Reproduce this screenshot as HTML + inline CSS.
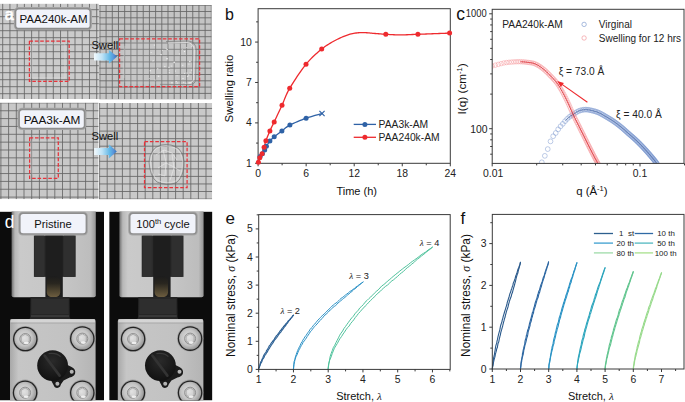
<!DOCTYPE html>
<html><head><meta charset="utf-8"><style>
html,body{margin:0;padding:0;background:#fff;}
svg{display:block;font-family:"Liberation Sans", sans-serif;}
</style></head><body>
<svg width="685" height="402" viewBox="0 0 685 402" font-family='"Liberation Sans", sans-serif'>
<rect width="685" height="402" fill="#fff"/>
<rect x="258.1" y="8.7" width="192.2" height="154.60000000000002" fill="none" stroke="#3a3a3a" stroke-width="1"/>
<line x1="255.10" y1="163.30" x2="258.10" y2="163.30" stroke="#3a3a3a" stroke-width="1" />
<text x="251.80" y="166.80" font-size="10.4" text-anchor="end" fill="#222" >1</text>
<line x1="255.10" y1="122.89" x2="258.10" y2="122.89" stroke="#3a3a3a" stroke-width="1" />
<text x="251.80" y="126.39" font-size="10.4" text-anchor="end" fill="#222" >4</text>
<line x1="255.10" y1="82.48" x2="258.10" y2="82.48" stroke="#3a3a3a" stroke-width="1" />
<text x="251.80" y="85.98" font-size="10.4" text-anchor="end" fill="#222" >7</text>
<line x1="255.10" y1="42.07" x2="258.10" y2="42.07" stroke="#3a3a3a" stroke-width="1" />
<text x="251.80" y="45.57" font-size="10.4" text-anchor="end" fill="#222" >10</text>
<line x1="256.10" y1="143.09" x2="258.10" y2="143.09" stroke="#3a3a3a" stroke-width="1" />
<line x1="256.10" y1="102.69" x2="258.10" y2="102.69" stroke="#3a3a3a" stroke-width="1" />
<line x1="256.10" y1="62.28" x2="258.10" y2="62.28" stroke="#3a3a3a" stroke-width="1" />
<line x1="256.10" y1="21.87" x2="258.10" y2="21.87" stroke="#3a3a3a" stroke-width="1" />
<line x1="258.10" y1="163.30" x2="258.10" y2="166.30" stroke="#3a3a3a" stroke-width="1" />
<text x="258.10" y="176.60" font-size="10.4" text-anchor="middle" fill="#222" >0</text>
<line x1="306.15" y1="163.30" x2="306.15" y2="166.30" stroke="#3a3a3a" stroke-width="1" />
<text x="306.15" y="176.60" font-size="10.4" text-anchor="middle" fill="#222" >6</text>
<line x1="354.20" y1="163.30" x2="354.20" y2="166.30" stroke="#3a3a3a" stroke-width="1" />
<text x="354.20" y="176.60" font-size="10.4" text-anchor="middle" fill="#222" >12</text>
<line x1="402.25" y1="163.30" x2="402.25" y2="166.30" stroke="#3a3a3a" stroke-width="1" />
<text x="402.25" y="176.60" font-size="10.4" text-anchor="middle" fill="#222" >18</text>
<line x1="450.30" y1="163.30" x2="450.30" y2="166.30" stroke="#3a3a3a" stroke-width="1" />
<text x="450.30" y="176.60" font-size="10.4" text-anchor="middle" fill="#222" >24</text>
<line x1="282.12" y1="163.30" x2="282.12" y2="165.30" stroke="#3a3a3a" stroke-width="1" />
<line x1="330.18" y1="163.30" x2="330.18" y2="165.30" stroke="#3a3a3a" stroke-width="1" />
<line x1="378.23" y1="163.30" x2="378.23" y2="165.30" stroke="#3a3a3a" stroke-width="1" />
<line x1="426.27" y1="163.30" x2="426.27" y2="165.30" stroke="#3a3a3a" stroke-width="1" />
<text x="356.70" y="194.90" font-size="11" text-anchor="middle" fill="#111" >Time (h)</text>
<text transform="translate(233.3,88.5) rotate(-90)" font-size="11.4" text-anchor="middle" fill="#111">Swelling ratio</text>
<polyline points="258.30,162.60 258.39,162.30 258.49,161.92 258.61,161.46 258.75,160.95 258.91,160.40 259.07,159.83 259.24,159.26 259.42,158.70 259.61,158.18 259.80,157.70 260.00,157.27 260.21,156.88 260.44,156.51 260.68,156.16 260.92,155.80 261.16,155.44 261.41,155.06 261.65,154.65 261.88,154.20 262.10,153.70 262.31,153.15 262.52,152.56 262.73,151.93 262.93,151.28 263.13,150.60 263.33,149.91 263.52,149.22 263.72,148.53 263.91,147.86 264.10,147.20 264.28,146.57 264.44,145.97 264.59,145.38 264.73,144.80 264.88,144.21 265.03,143.61 265.20,142.97 265.40,142.30 265.63,141.58 265.90,140.80 266.21,139.95 266.55,139.03 266.93,138.06 267.33,137.05 267.74,136.01 268.17,134.96 268.61,133.91 269.05,132.88 269.48,131.87 269.90,130.90 270.30,130.00 270.68,129.17 271.06,128.38 271.43,127.60 271.81,126.83 272.21,126.01 272.64,125.14 273.11,124.18 273.63,123.11 274.20,121.90 274.84,120.54 275.54,119.06 276.29,117.46 277.07,115.78 277.89,114.04 278.72,112.26 279.56,110.47 280.39,108.68 281.21,106.91 282.00,105.20 282.74,103.55 283.41,101.95 284.05,100.37 284.67,98.80 285.32,97.21 286.01,95.58 286.76,93.90 287.61,92.14 288.58,90.28 289.70,88.30 290.98,86.15 292.42,83.81 293.98,81.34 295.63,78.79 297.35,76.19 299.11,73.61 300.88,71.08 302.64,68.65 304.36,66.38 306.00,64.30 307.60,62.40 309.20,60.60 310.80,58.90 312.39,57.29 313.97,55.77 315.55,54.32 317.11,52.93 318.66,51.61 320.19,50.33 321.70,49.10 323.19,47.93 324.65,46.84 326.10,45.82 327.54,44.86 328.96,43.96 330.37,43.11 331.78,42.30 333.18,41.51 334.59,40.75 336.00,40.00 337.42,39.27 338.85,38.56 340.29,37.89 341.72,37.24 343.14,36.63 344.56,36.06 345.96,35.53 347.33,35.04 348.68,34.60 350.00,34.20 351.28,33.86 352.53,33.57 353.75,33.34 354.94,33.14 356.12,32.99 357.30,32.87 358.46,32.77 359.63,32.70 360.81,32.64 362.00,32.60 363.20,32.58 364.40,32.60 365.61,32.66 366.81,32.74 368.01,32.84 369.21,32.96 370.41,33.08 371.61,33.20 372.81,33.31 374.00,33.40 375.18,33.49 376.33,33.58 377.48,33.67 378.62,33.77 379.76,33.86 380.92,33.96 382.09,34.05 383.29,34.14 384.52,34.22 385.80,34.30 387.11,34.38 388.43,34.46 389.77,34.54 391.13,34.62 392.52,34.69 393.94,34.76 395.39,34.82 396.88,34.86 398.42,34.89 400.00,34.90 401.65,34.89 403.37,34.86 405.15,34.81 406.98,34.75 408.83,34.67 410.69,34.60 412.55,34.52 414.38,34.44 416.17,34.37 417.90,34.30 419.59,34.24 421.24,34.18 422.88,34.12 424.49,34.06 426.09,34.00 427.68,33.94 429.26,33.88 430.84,33.82 432.42,33.76 434.00,33.70 435.65,33.64 437.40,33.57 439.21,33.50 441.02,33.43 442.81,33.36 444.51,33.30 446.08,33.24 447.49,33.18 448.67,33.14 449.60,33.10" fill="none" stroke="#ee2a2e" stroke-width="1.3" stroke-linejoin="round" stroke-linecap="round" />
<polyline points="258.30,162.80 258.44,162.30 258.61,161.61 258.82,160.78 259.06,159.88 259.31,158.96 259.57,158.06 259.84,157.26 260.10,156.60 260.36,156.09 260.64,155.66 260.93,155.31 261.22,154.99 261.52,154.70 261.81,154.40 262.11,154.08 262.40,153.70 262.69,153.28 262.99,152.83 263.29,152.37 263.59,151.90 263.88,151.42 264.17,150.94 264.44,150.47 264.70,150.00 264.93,149.55 265.12,149.11 265.30,148.68 265.47,148.24 265.66,147.80 265.86,147.33 266.11,146.83 266.40,146.30 266.75,145.72 267.13,145.08 267.55,144.42 267.99,143.74 268.45,143.05 268.93,142.37 269.41,141.72 269.90,141.10 270.38,140.53 270.84,140.00 271.30,139.49 271.79,138.99 272.30,138.49 272.87,137.97 273.49,137.41 274.20,136.80 275.00,136.14 275.88,135.44 276.83,134.70 277.82,133.94 278.84,133.18 279.87,132.41 280.90,131.64 281.90,130.90 282.83,130.18 283.69,129.47 284.52,128.77 285.37,128.06 286.29,127.35 287.32,126.63 288.51,125.88 289.90,125.10 291.53,124.28 293.38,123.40 295.39,122.50 297.51,121.58 299.69,120.67 301.88,119.80 304.03,118.96 306.10,118.20 308.21,117.48 310.47,116.76 312.78,116.07 315.06,115.42 317.22,114.82 319.15,114.29 320.78,113.85 322.00,113.50" fill="none" stroke="#2f62a6" stroke-width="1.3" stroke-linejoin="round" stroke-linecap="round" />
<circle cx="260.10" cy="156.60" r="2.5" fill="#2f62a6"/>
<circle cx="262.40" cy="153.70" r="2.5" fill="#2f62a6"/>
<circle cx="264.70" cy="150.00" r="2.5" fill="#2f62a6"/>
<circle cx="266.40" cy="146.30" r="2.5" fill="#2f62a6"/>
<circle cx="269.90" cy="141.10" r="2.5" fill="#2f62a6"/>
<circle cx="274.20" cy="136.80" r="2.5" fill="#2f62a6"/>
<circle cx="281.90" cy="130.90" r="2.5" fill="#2f62a6"/>
<circle cx="289.90" cy="125.10" r="2.5" fill="#2f62a6"/>
<circle cx="306.10" cy="118.20" r="2.5" fill="#2f62a6"/>
<line x1="319.40" y1="110.90" x2="324.60" y2="116.10" stroke="#2f62a6" stroke-width="1.2" />
<line x1="319.40" y1="116.10" x2="324.60" y2="110.90" stroke="#2f62a6" stroke-width="1.2" />
<circle cx="258.40" cy="162.30" r="2.5" fill="#ee2a2e"/>
<circle cx="259.80" cy="157.70" r="2.5" fill="#ee2a2e"/>
<circle cx="262.10" cy="153.70" r="2.5" fill="#ee2a2e"/>
<circle cx="264.10" cy="147.20" r="2.5" fill="#ee2a2e"/>
<circle cx="265.90" cy="140.80" r="2.5" fill="#ee2a2e"/>
<circle cx="269.90" cy="130.90" r="2.5" fill="#ee2a2e"/>
<circle cx="274.20" cy="121.90" r="2.5" fill="#ee2a2e"/>
<circle cx="282.00" cy="105.20" r="2.5" fill="#ee2a2e"/>
<circle cx="289.70" cy="88.30" r="2.5" fill="#ee2a2e"/>
<circle cx="306.00" cy="64.30" r="2.5" fill="#ee2a2e"/>
<circle cx="321.70" cy="49.10" r="2.5" fill="#ee2a2e"/>
<circle cx="385.80" cy="34.30" r="2.5" fill="#ee2a2e"/>
<circle cx="417.90" cy="34.30" r="2.5" fill="#ee2a2e"/>
<circle cx="449.60" cy="33.10" r="2.5" fill="#ee2a2e"/>
<line x1="353.70" y1="124.40" x2="376.00" y2="124.40" stroke="#2f62a6" stroke-width="1.3" />
<circle cx="364.9" cy="124.4" r="2.5" fill="#2f62a6"/>
<line x1="353.70" y1="137.30" x2="376.00" y2="137.30" stroke="#ee2a2e" stroke-width="1.3" />
<circle cx="364.9" cy="137.3" r="2.5" fill="#ee2a2e"/>
<text x="378.60" y="128.20" font-size="10.3" text-anchor="start" fill="#222" >PAA3k-AM</text>
<text x="378.60" y="141.10" font-size="10.3" text-anchor="start" fill="#222" >PAA240k-AM</text>
<text x="225.00" y="19.80" font-size="16" text-anchor="start" fill="#111" >b</text>
<polyline points="258.55,369.33 258.68,368.20 259.22,367.25 259.57,366.22 259.87,365.18 260.06,363.99 260.51,363.04 260.67,362.12 261.38,361.02 261.68,360.17 262.09,359.12 262.71,358.22 263.03,357.34 263.27,356.46 263.80,355.33 264.25,354.45 264.77,353.72 265.45,352.94 266.14,352.02 266.39,350.89 266.93,350.04 267.63,349.22 268.21,348.10 268.66,347.31 269.06,346.21 269.80,345.35 270.51,344.50 270.85,343.59 271.49,342.71 272.21,341.92 272.74,341.11 273.31,340.33 274.23,339.38 274.65,338.41 275.34,337.35 275.91,336.66 276.46,335.62 277.36,334.85 277.90,334.20 278.59,333.08 279.41,332.24 279.69,331.50 280.40,330.48 281.37,329.76 281.73,328.81 282.57,327.96 283.18,327.14 283.83,326.16 284.65,325.56 285.24,324.63 285.99,323.70 286.79,322.81 287.65,321.92 288.12,320.96 288.83,320.40 289.79,319.59 290.55,318.37 291.27,317.82 292.04,316.86 292.64,316.00 293.57,315.07" fill="none" stroke="#2b5f93" stroke-width="1.1" stroke-linejoin="round" stroke-linecap="round" />
<polyline points="258.88,369.58 258.78,368.07 259.41,367.29 259.71,366.11 260.08,365.24 260.48,364.10 260.85,363.24 261.41,362.54 261.96,361.43 262.23,360.39 262.55,359.38 263.22,358.58 263.69,357.90 264.26,356.87 264.66,355.75 265.22,354.90 265.81,354.34 266.39,353.11 266.99,352.44 267.45,351.58 267.99,350.63 268.37,349.81 269.17,348.59 269.64,347.91 270.09,346.95 270.67,346.21 271.25,345.29 271.78,344.42 272.59,343.37 273.06,342.67 273.72,341.62 274.14,340.67 274.94,339.73 275.65,338.90 276.28,338.04 276.93,337.33 277.39,336.38 278.10,335.54 278.61,334.52 279.35,333.94 280.06,332.73 280.80,332.13 281.51,331.05 282.12,330.14 282.76,329.36 283.26,328.73 283.87,327.70 284.82,326.70 285.23,326.07 285.98,325.11 286.48,324.08 287.21,323.32 287.84,322.54 288.49,321.55 289.17,320.47 290.16,319.53 290.59,318.85 291.35,317.69 292.27,316.83 292.58,316.01 293.50,315.26" fill="none" stroke="#2b5f93" stroke-width="1.1" stroke-linejoin="round" stroke-linecap="round" />
<polyline points="293.52,369.34 293.87,364.83 294.09,361.56 294.94,359.34 295.41,356.80 296.24,354.57 296.88,352.51 297.65,350.67 298.43,348.70 299.46,346.75 300.24,345.27 301.03,343.36 302.15,341.70 302.84,340.15 304.01,338.43 304.84,336.96 306.05,335.48 307.08,333.87 307.91,332.58 309.19,331.05 310.00,329.49 311.21,328.10 312.43,326.97 313.31,325.37 314.69,324.16 315.84,322.70 316.74,321.35 318.18,320.03 319.19,318.79 320.43,317.50 321.84,316.13 322.71,315.18 324.30,313.95 325.37,312.70 326.83,311.18 328.04,310.21 329.29,308.88 330.44,307.61 331.72,306.31 333.18,305.22 334.60,303.95 335.98,303.05 337.33,301.97 338.68,300.70 339.69,299.63 341.13,298.32 342.72,297.28 344.01,296.33 345.49,294.98 346.76,294.08 348.27,292.95 349.65,291.63 351.17,290.79 352.47,289.70 354.22,288.63 355.65,287.25 357.04,286.52 358.29,285.23 359.86,284.28 361.42,283.21 363.06,281.98" fill="none" stroke="#2b91c6" stroke-width="1.0" stroke-linejoin="round" stroke-linecap="round" />
<polyline points="293.35,369.42 293.87,364.79 294.60,361.61 295.05,359.39 295.91,356.86 297.00,354.83 297.77,352.84 298.55,350.82 299.45,349.29 300.32,347.49 301.32,345.53 302.31,344.09 303.11,342.27 304.33,340.89 305.28,339.52 306.31,338.04 307.20,336.51 308.23,335.09 309.43,333.29 310.18,331.91 311.57,330.58 312.51,329.13 313.56,327.79 314.61,326.51 315.82,325.30 317.00,323.98 318.22,322.69 319.32,321.06 320.57,320.10 321.78,318.67 322.91,317.26 324.18,316.16 325.19,314.72 326.66,313.86 327.61,312.56 329.00,311.10 330.23,310.15 331.75,308.67 332.95,307.49 334.30,306.43 335.68,305.53 336.86,304.38 338.12,302.86 339.59,301.71 340.79,300.72 342.30,299.47 343.40,298.58 344.85,297.44 346.43,296.04 347.61,294.93 349.05,293.80 350.38,292.64 351.91,291.44 353.08,290.36 354.39,289.03 356.08,287.96 357.31,286.60 358.66,285.68 359.92,284.54 361.58,283.16 363.00,282.17" fill="none" stroke="#2b91c6" stroke-width="1.0" stroke-linejoin="round" stroke-linecap="round" />
<polyline points="328.01,369.37 328.61,363.98 329.59,359.99 330.13,356.53 331.18,353.42 332.21,350.78 333.28,347.68 334.76,345.24 335.99,342.61 337.21,340.22 338.47,337.84 339.69,335.22 340.95,333.23 342.64,330.99 343.85,328.67 345.51,326.48 347.03,324.29 348.50,322.25 349.90,320.26 351.76,317.87 353.38,316.20 354.90,313.83 356.65,311.89 358.36,310.15 359.70,308.02 361.66,306.26 363.45,304.51 365.01,302.26 367.08,300.40 368.86,298.60 370.66,297.04 372.53,295.13 374.40,293.19 376.19,291.46 378.18,289.86 379.92,288.00 381.67,286.06 383.85,284.50 385.92,282.83 387.60,281.02 389.85,279.38 391.55,277.81 393.90,275.83 395.82,274.28 397.97,272.59 399.82,271.00 402.19,269.20 403.94,267.78 406.35,266.11 408.29,264.63 410.56,262.70 412.75,261.15 414.67,259.81 416.89,258.21 418.97,256.66 421.17,254.79 423.50,253.30 425.74,251.97 428.04,250.06 430.12,248.73 432.44,247.26" fill="none" stroke="#4fc29c" stroke-width="1.0" stroke-linejoin="round" stroke-linecap="round" />
<polyline points="328.09,369.24 328.89,363.71 329.70,360.05 331.11,356.93 332.19,353.69 333.30,350.91 334.42,348.18 335.74,345.96 337.33,343.46 338.70,340.84 339.92,338.70 341.53,336.55 343.06,334.04 344.45,332.12 345.94,329.81 347.47,327.70 349.19,325.94 350.54,323.64 352.23,321.70 353.78,319.79 355.22,317.61 356.87,315.65 358.34,313.64 360.26,311.61 361.64,309.93 363.44,308.00 365.24,306.05 367.20,304.13 368.74,302.29 370.62,300.49 372.31,298.87 374.13,297.00 376.21,295.03 377.73,293.31 379.89,291.70 381.58,289.85 383.47,288.16 385.35,286.53 387.64,284.93 389.54,283.23 391.23,281.27 393.60,279.78 395.39,278.18 397.50,276.47 399.41,274.56 401.48,272.85 403.45,271.45 405.43,269.34 407.34,267.68 409.66,266.04 411.49,264.21 413.82,262.62 415.56,260.76 417.57,259.08 419.89,257.36 421.72,255.77 423.89,254.26 425.94,252.35 428.31,250.58 430.52,248.89 432.35,247.14" fill="none" stroke="#4fc29c" stroke-width="1.0" stroke-linejoin="round" stroke-linecap="round" />
<rect x="258.7" y="214.6" width="191.50" height="154.80" fill="none" stroke="#3a3a3a" stroke-width="1"/>
<line x1="255.70" y1="369.40" x2="258.70" y2="369.40" stroke="#3a3a3a" stroke-width="1" />
<text x="252.90" y="372.90" font-size="10.4" text-anchor="end" fill="#222" >0</text>
<line x1="255.70" y1="341.30" x2="258.70" y2="341.30" stroke="#3a3a3a" stroke-width="1" />
<text x="252.90" y="344.80" font-size="10.4" text-anchor="end" fill="#222" >1</text>
<line x1="255.70" y1="313.20" x2="258.70" y2="313.20" stroke="#3a3a3a" stroke-width="1" />
<text x="252.90" y="316.70" font-size="10.4" text-anchor="end" fill="#222" >2</text>
<line x1="255.70" y1="285.10" x2="258.70" y2="285.10" stroke="#3a3a3a" stroke-width="1" />
<text x="252.90" y="288.60" font-size="10.4" text-anchor="end" fill="#222" >3</text>
<line x1="255.70" y1="257.00" x2="258.70" y2="257.00" stroke="#3a3a3a" stroke-width="1" />
<text x="252.90" y="260.50" font-size="10.4" text-anchor="end" fill="#222" >4</text>
<line x1="255.70" y1="228.90" x2="258.70" y2="228.90" stroke="#3a3a3a" stroke-width="1" />
<text x="252.90" y="232.40" font-size="10.4" text-anchor="end" fill="#222" >5</text>
<line x1="256.70" y1="355.35" x2="258.70" y2="355.35" stroke="#3a3a3a" stroke-width="1" />
<line x1="256.70" y1="327.25" x2="258.70" y2="327.25" stroke="#3a3a3a" stroke-width="1" />
<line x1="256.70" y1="299.15" x2="258.70" y2="299.15" stroke="#3a3a3a" stroke-width="1" />
<line x1="256.70" y1="271.05" x2="258.70" y2="271.05" stroke="#3a3a3a" stroke-width="1" />
<line x1="256.70" y1="242.95" x2="258.70" y2="242.95" stroke="#3a3a3a" stroke-width="1" />
<line x1="256.70" y1="214.85" x2="258.70" y2="214.85" stroke="#3a3a3a" stroke-width="1" />
<line x1="258.70" y1="369.40" x2="258.70" y2="372.40" stroke="#3a3a3a" stroke-width="1" />
<text x="258.70" y="382.80" font-size="10.4" text-anchor="middle" fill="#222" >1</text>
<line x1="293.45" y1="369.40" x2="293.45" y2="372.40" stroke="#3a3a3a" stroke-width="1" />
<text x="293.45" y="382.80" font-size="10.4" text-anchor="middle" fill="#222" >2</text>
<line x1="328.20" y1="369.40" x2="328.20" y2="372.40" stroke="#3a3a3a" stroke-width="1" />
<text x="328.20" y="382.80" font-size="10.4" text-anchor="middle" fill="#222" >3</text>
<line x1="362.95" y1="369.40" x2="362.95" y2="372.40" stroke="#3a3a3a" stroke-width="1" />
<text x="362.95" y="382.80" font-size="10.4" text-anchor="middle" fill="#222" >4</text>
<line x1="397.70" y1="369.40" x2="397.70" y2="372.40" stroke="#3a3a3a" stroke-width="1" />
<text x="397.70" y="382.80" font-size="10.4" text-anchor="middle" fill="#222" >5</text>
<line x1="432.45" y1="369.40" x2="432.45" y2="372.40" stroke="#3a3a3a" stroke-width="1" />
<text x="432.45" y="382.80" font-size="10.4" text-anchor="middle" fill="#222" >6</text>
<line x1="276.07" y1="369.40" x2="276.07" y2="371.40" stroke="#3a3a3a" stroke-width="1" />
<line x1="310.82" y1="369.40" x2="310.82" y2="371.40" stroke="#3a3a3a" stroke-width="1" />
<line x1="345.57" y1="369.40" x2="345.57" y2="371.40" stroke="#3a3a3a" stroke-width="1" />
<line x1="380.32" y1="369.40" x2="380.32" y2="371.40" stroke="#3a3a3a" stroke-width="1" />
<line x1="415.07" y1="369.40" x2="415.07" y2="371.40" stroke="#3a3a3a" stroke-width="1" />
<line x1="449.82" y1="369.40" x2="449.82" y2="371.40" stroke="#3a3a3a" stroke-width="1" />
<text x="359" y="399.6" font-size="11" text-anchor="middle" fill="#111">Stretch, <tspan font-family="Liberation Serif" font-style="italic">λ</tspan></text>
<text transform="translate(235.1,295.5) rotate(-90)" font-size="11.9" text-anchor="middle" fill="#111">Nominal stress, <tspan font-family="Liberation Serif" font-style="italic">σ</tspan> (kPa)</text>
<text x="290.2" y="314.2" font-size="9.2" text-anchor="middle" fill="#222"><tspan font-family="Liberation Serif" font-style="italic">λ</tspan> = 2</text>
<text x="359.0" y="279.2" font-size="9.2" text-anchor="middle" fill="#222"><tspan font-family="Liberation Serif" font-style="italic">λ</tspan> = 3</text>
<text x="429.6" y="246.0" font-size="9.2" text-anchor="middle" fill="#222"><tspan font-family="Liberation Serif" font-style="italic">λ</tspan> = 4</text>
<text x="225.50" y="223.80" font-size="17" text-anchor="start" fill="#111" >e</text>
<polyline points="492.34,369.06 492.48,367.06 492.74,365.13 492.97,363.39 493.11,361.50 493.48,359.66 493.58,357.83 494.11,356.02 494.50,353.99 494.75,352.13 495.07,350.55 495.32,348.57 495.65,346.72 496.07,344.88 496.70,343.32 496.94,341.49 497.42,339.63 497.75,337.88 498.21,335.98 498.58,334.30 499.10,332.39 499.54,330.81 500.06,328.97 500.28,327.13 500.75,325.24 501.26,323.59 501.89,321.87 502.22,320.13 502.77,318.30 503.19,316.52 503.71,314.84 504.25,313.00 504.75,311.25 505.32,309.56 505.87,307.71 506.38,306.12 506.96,304.29 507.21,302.57 507.97,300.57 508.36,298.91 509.02,297.25 509.42,295.37 509.94,293.60 510.67,292.10 511.06,290.30 511.84,288.39 512.29,286.72 512.97,285.10 513.25,283.16 514.08,281.53 514.56,279.86 515.21,278.17 515.66,276.16 516.36,274.42 516.91,272.92 517.45,271.11 517.98,269.24 518.71,267.72 519.43,265.73 520.02,264.15 520.45,262.38" fill="none" stroke="#2b5a8c" stroke-width="1.1" stroke-linejoin="round" stroke-linecap="round" />
<polyline points="492.32,368.98 492.61,366.96 493.03,365.26 493.36,363.21 493.72,361.43 494.05,359.79 494.69,357.71 495.09,356.08 495.38,354.18 495.92,352.45 496.38,350.72 496.67,348.97 497.39,347.25 497.75,345.20 498.04,343.46 498.80,341.74 499.07,340.14 499.47,338.26 499.93,336.33 500.40,334.79 500.71,332.83 501.22,331.00 501.70,329.46 502.20,327.61 502.72,325.73 503.10,324.03 503.58,322.19 504.11,320.42 504.41,318.87 505.13,317.00 505.46,315.18 505.92,313.54 506.39,311.63 506.98,309.89 507.55,308.34 508.10,306.48 508.49,304.72 508.92,303.05 509.54,301.19 510.00,299.48 510.69,297.71 511.32,296.05 511.68,294.27 512.43,292.52 512.89,290.64 513.37,289.01 513.83,287.23 514.37,285.50 514.82,283.62 515.29,282.09 515.76,280.04 516.11,278.42 516.60,276.51 517.10,274.85 517.84,273.08 518.15,271.29 518.63,269.52 519.17,267.87 519.63,265.95 520.08,264.32 520.40,262.33" fill="none" stroke="#2b5a8c" stroke-width="1.1" stroke-linejoin="round" stroke-linecap="round" />
<polyline points="520.42,369.06 520.56,367.12 520.87,365.05 520.98,363.30 521.20,361.28 521.63,359.62 521.95,357.60 522.35,355.74 522.41,353.93 522.88,352.04 523.15,350.31 523.63,348.42 523.94,346.84 524.51,344.96 524.81,343.13 525.04,341.17 525.41,339.63 526.03,337.85 526.25,335.96 526.82,334.20 527.21,332.49 527.58,330.57 528.22,328.89 528.68,327.05 529.16,325.33 529.49,323.48 530.13,321.76 530.46,319.96 531.08,318.12 531.50,316.30 531.98,314.59 532.33,312.83 533.10,311.14 533.53,309.23 534.05,307.52 534.48,305.83 534.89,304.05 535.40,302.24 536.07,300.37 536.67,298.69 537.18,297.06 537.62,295.03 538.18,293.48 538.70,291.57 539.46,289.96 539.88,288.28 540.41,286.46 540.94,284.64 541.69,283.04 542.29,281.13 542.77,279.36 543.22,277.67 544.01,276.03 544.56,274.32 545.02,272.34 545.67,270.63 546.20,268.93 546.92,267.21 547.43,265.57 548.24,263.72 548.57,261.85" fill="none" stroke="#2d67a2" stroke-width="1.1" stroke-linejoin="round" stroke-linecap="round" />
<polyline points="520.49,369.02 520.84,367.02 520.99,365.16 521.20,363.27 521.66,361.50 521.85,359.51 522.21,357.83 522.76,355.77 523.23,354.23 523.53,352.31 523.78,350.33 524.30,348.54 524.62,346.79 525.00,345.07 525.55,343.39 526.01,341.54 526.44,339.76 526.84,337.85 527.42,336.27 527.80,334.40 528.08,332.47 528.51,330.64 529.10,328.96 529.58,327.18 530.08,325.54 530.26,323.57 531.00,321.87 531.50,320.08 531.71,318.38 532.41,316.50 532.70,314.75 533.46,313.12 533.71,311.20 534.21,309.38 534.93,307.65 535.38,305.97 535.79,304.30 536.29,302.51 536.82,300.69 537.38,298.89 538.15,297.29 538.49,295.56 539.01,293.66 539.75,291.98 540.08,290.34 540.65,288.36 541.34,286.62 541.72,284.78 542.19,283.17 542.76,281.42 543.33,279.61 544.03,277.86 544.45,276.21 544.86,274.23 545.61,272.67 545.95,270.72 546.63,269.18 547.00,267.42 547.74,265.55 548.14,263.64 548.56,262.13" fill="none" stroke="#2d67a2" stroke-width="1.1" stroke-linejoin="round" stroke-linecap="round" />
<polyline points="548.64,368.93 548.89,367.10 548.93,365.26 549.25,363.20 549.51,361.57 549.83,359.62 550.24,357.89 550.51,355.91 550.78,354.23 551.18,352.32 551.40,350.45 551.88,348.71 552.04,346.96 552.68,345.19 553.07,343.43 553.36,341.61 553.72,339.62 554.13,337.90 554.73,336.23 555.04,334.43 555.35,332.63 555.96,330.82 556.28,329.05 556.75,327.37 557.16,325.42 557.68,323.84 558.29,322.07 558.82,320.22 559.03,318.50 559.64,316.65 560.20,314.94 560.57,313.18 561.29,311.33 561.62,309.66 562.09,307.96 562.61,306.35 563.22,304.54 563.64,302.72 564.30,301.09 564.73,299.23 565.45,297.60 565.81,295.77 566.52,293.98 567.04,292.32 567.68,290.55 568.16,288.75 568.73,287.01 569.23,285.28 569.74,283.48 570.29,281.87 570.87,279.98 571.62,278.32 572.24,276.68 572.67,275.04 573.41,273.14 573.77,271.51 574.58,269.77 575.17,267.98 575.72,266.21 576.26,264.52 576.87,262.80" fill="none" stroke="#2b93c5" stroke-width="1.1" stroke-linejoin="round" stroke-linecap="round" />
<polyline points="548.69,369.05 548.96,366.94 549.04,365.13 549.43,363.40 549.88,361.50 550.19,359.69 550.42,357.81 550.80,356.14 551.15,354.31 551.55,352.47 552.03,350.59 552.60,348.69 552.78,347.17 553.34,345.14 553.92,343.62 554.09,341.69 554.53,339.88 555.09,338.06 555.53,336.25 555.80,334.71 556.30,332.82 556.80,331.06 557.19,329.16 557.75,327.68 558.28,325.83 558.56,323.97 559.13,322.31 559.44,320.42 560.00,318.74 560.62,316.98 560.88,315.33 561.50,313.48 561.94,311.71 562.49,310.06 562.92,308.24 563.46,306.54 563.94,304.67 564.56,303.03 565.00,301.24 565.58,299.44 566.20,297.90 566.74,296.16 567.20,294.41 567.80,292.45 568.47,290.93 568.79,289.00 569.54,287.27 569.91,285.42 570.37,283.86 571.18,282.22 571.57,280.18 572.04,278.66 572.72,276.87 573.08,275.09 573.68,273.37 574.15,271.71 574.87,269.73 575.23,268.19 575.76,266.46 576.37,264.64 576.96,262.74" fill="none" stroke="#2b93c5" stroke-width="1.1" stroke-linejoin="round" stroke-linecap="round" />
<polyline points="577.02,369.07 576.97,367.19 577.34,365.26 577.50,363.51 577.66,361.72 577.93,359.99 578.17,358.25 578.50,356.62 578.98,354.67 579.38,353.00 579.64,351.38 579.96,349.59 580.36,347.83 580.87,346.11 581.25,344.44 581.49,342.79 581.82,341.01 582.33,339.40 582.91,337.87 583.09,336.04 583.55,334.43 584.05,332.77 584.57,330.86 584.86,329.21 585.58,327.49 585.93,325.88 586.36,324.33 586.80,322.63 587.42,321.02 587.86,319.34 588.33,317.56 588.89,315.97 589.47,314.08 589.75,312.54 590.47,310.87 590.83,309.33 591.36,307.40 591.81,305.72 592.54,304.08 593.07,302.65 593.70,300.97 594.07,299.25 594.74,297.62 595.12,295.98 595.63,294.18 596.45,292.58 596.79,291.02 597.41,289.13 597.86,287.55 598.52,286.10 599.07,284.42 599.84,282.64 600.46,281.10 600.90,279.30 601.48,277.84 602.09,275.98 602.64,274.42 603.19,272.80 603.74,271.23 604.39,269.37 605.13,267.79" fill="none" stroke="#2ea6bd" stroke-width="1.1" stroke-linejoin="round" stroke-linecap="round" />
<polyline points="576.83,369.06 577.17,367.24 577.29,365.27 577.59,363.50 578.09,361.72 578.38,360.00 578.67,358.34 579.20,356.67 579.34,354.85 579.77,353.32 580.38,351.59 580.79,349.87 581.25,348.19 581.46,346.51 581.96,344.79 582.42,343.00 582.79,341.31 583.19,339.52 583.76,338.03 584.24,336.31 584.55,334.64 584.86,332.94 585.40,331.10 585.79,329.53 586.26,327.83 586.83,326.13 587.16,324.48 587.67,322.73 588.14,321.10 588.59,319.51 589.35,317.76 589.78,316.25 590.08,314.35 590.82,312.89 591.28,311.02 591.73,309.57 592.39,307.89 592.71,306.24 593.29,304.54 593.76,302.95 594.43,301.22 594.86,299.53 595.52,297.87 596.00,296.25 596.55,294.47 597.03,292.92 597.54,291.12 598.05,289.58 598.72,287.88 599.10,286.18 599.72,284.41 600.14,283.02 600.71,281.14 601.28,279.56 601.76,277.85 602.38,276.29 602.81,274.47 603.49,273.00 604.03,271.18 604.61,269.45 604.96,267.84" fill="none" stroke="#2ea6bd" stroke-width="1.1" stroke-linejoin="round" stroke-linecap="round" />
<polyline points="605.09,368.95 605.17,367.08 605.35,365.52 605.57,363.68 605.92,362.07 606.18,360.45 606.44,358.64 606.80,356.90 607.07,355.24 607.56,353.58 607.90,351.94 608.25,350.42 608.54,348.85 609.01,347.09 609.22,345.40 609.68,343.78 610.29,342.26 610.44,340.58 611.13,338.90 611.30,337.37 611.84,335.78 612.42,334.10 612.88,332.25 613.30,330.70 613.56,329.10 614.16,327.37 614.59,325.99 615.09,324.30 615.51,322.82 615.98,321.12 616.60,319.30 617.20,317.76 617.70,316.36 618.18,314.73 618.55,313.00 619.05,311.55 619.47,309.70 620.28,308.30 620.73,306.75 621.21,305.11 621.73,303.53 622.16,301.79 622.86,300.30 623.36,298.67 624.08,297.00 624.41,295.29 625.17,293.83 625.60,292.25 626.09,290.57 626.69,288.98 627.46,287.39 627.81,285.99 628.53,284.15 629.15,282.76 629.74,281.20 630.26,279.45 630.95,277.98 631.54,276.26 632.05,274.83 632.66,273.22 633.29,271.68" fill="none" stroke="#62c58f" stroke-width="1.1" stroke-linejoin="round" stroke-linecap="round" />
<polyline points="604.98,369.06 605.36,367.34 605.52,365.41 605.96,363.83 606.16,362.15 606.54,360.51 606.81,358.68 607.42,357.06 607.61,355.54 608.12,353.70 608.50,352.21 608.79,350.57 609.20,348.84 609.61,347.17 610.31,345.60 610.75,343.98 611.06,342.49 611.50,340.63 611.89,339.16 612.20,337.37 612.84,335.87 613.08,334.23 613.53,332.71 614.07,330.89 614.63,329.26 614.93,327.63 615.54,326.04 615.96,324.42 616.43,322.99 616.93,321.31 617.41,319.70 617.94,317.99 618.41,316.42 619.03,315.03 619.30,313.19 620.01,311.71 620.33,310.15 621.13,308.47 621.48,306.91 622.19,305.22 622.54,303.60 623.18,302.09 623.61,300.47 624.10,298.86 624.94,297.34 625.26,295.85 625.81,294.04 626.24,292.40 626.81,290.82 627.54,289.23 627.88,287.72 628.61,286.02 629.10,284.44 629.57,282.90 630.22,281.34 630.62,279.76 631.11,278.01 631.83,276.45 632.31,274.77 632.89,273.25 633.22,271.74" fill="none" stroke="#62c58f" stroke-width="1.1" stroke-linejoin="round" stroke-linecap="round" />
<polyline points="633.41,369.07 633.32,367.33 633.66,365.46 633.99,363.71 634.01,362.09 634.49,360.49 634.71,358.94 635.00,357.25 635.21,355.60 635.59,353.93 636.15,352.29 636.43,350.63 636.86,348.94 637.08,347.37 637.56,345.62 637.96,344.11 638.26,342.56 638.86,340.84 639.30,339.42 639.67,337.64 639.99,335.95 640.44,334.61 640.82,332.98 641.47,331.34 641.75,329.70 642.25,328.11 642.90,326.53 643.30,324.98 643.69,323.17 644.37,321.55 644.73,320.07 645.36,318.46 645.78,316.91 646.26,315.32 646.77,313.77 647.27,312.13 647.94,310.72 648.27,309.13 648.73,307.36 649.53,305.73 650.00,304.40 650.52,302.66 650.90,301.08 651.58,299.61 652.11,298.04 652.67,296.42 653.34,294.70 653.97,293.21 654.39,291.80 654.99,290.09 655.46,288.43 656.21,286.95 656.76,285.44 657.35,283.76 658.00,282.23 658.39,280.79 659.20,279.00 659.80,277.61 660.22,276.01 661.02,274.32 661.55,272.78" fill="none" stroke="#98da8c" stroke-width="1.1" stroke-linejoin="round" stroke-linecap="round" />
<polyline points="633.44,368.85 633.58,367.13 633.93,365.39 634.21,363.91 634.53,362.34 634.69,360.49 635.19,358.83 635.43,357.18 635.99,355.74 636.37,353.92 636.81,352.38 637.01,350.75 637.49,349.03 637.95,347.50 638.39,346.06 638.85,344.30 639.34,342.87 639.64,341.25 639.92,339.40 640.40,338.03 640.99,336.36 641.31,334.70 641.93,332.98 642.16,331.36 642.72,330.01 643.22,328.28 643.67,326.62 644.28,325.08 644.55,323.48 645.22,321.89 645.73,320.31 646.09,318.64 646.73,317.28 647.11,315.49 647.63,313.98 648.25,312.57 648.74,310.79 649.06,309.40 649.86,307.60 650.26,306.12 650.94,304.41 651.21,303.07 651.91,301.38 652.52,299.85 653.05,298.18 653.40,296.52 654.00,295.13 654.54,293.45 655.14,291.98 655.66,290.27 656.26,288.83 656.81,287.27 657.07,285.62 657.71,283.95 658.29,282.29 658.74,280.95 659.30,279.34 659.94,277.57 660.37,276.07 661.02,274.40 661.37,272.76" fill="none" stroke="#98da8c" stroke-width="1.1" stroke-linejoin="round" stroke-linecap="round" />
<rect x="492.3" y="214.4" width="191.70" height="154.60" fill="none" stroke="#3a3a3a" stroke-width="1"/>
<line x1="489.30" y1="369.00" x2="492.30" y2="369.00" stroke="#3a3a3a" stroke-width="1" />
<text x="486.50" y="372.50" font-size="10.4" text-anchor="end" fill="#222" >0</text>
<line x1="489.30" y1="327.20" x2="492.30" y2="327.20" stroke="#3a3a3a" stroke-width="1" />
<text x="486.50" y="330.70" font-size="10.4" text-anchor="end" fill="#222" >1</text>
<line x1="489.30" y1="285.40" x2="492.30" y2="285.40" stroke="#3a3a3a" stroke-width="1" />
<text x="486.50" y="288.90" font-size="10.4" text-anchor="end" fill="#222" >2</text>
<line x1="489.30" y1="243.60" x2="492.30" y2="243.60" stroke="#3a3a3a" stroke-width="1" />
<text x="486.50" y="247.10" font-size="10.4" text-anchor="end" fill="#222" >3</text>
<line x1="490.30" y1="348.10" x2="492.30" y2="348.10" stroke="#3a3a3a" stroke-width="1" />
<line x1="490.30" y1="306.30" x2="492.30" y2="306.30" stroke="#3a3a3a" stroke-width="1" />
<line x1="490.30" y1="264.50" x2="492.30" y2="264.50" stroke="#3a3a3a" stroke-width="1" />
<line x1="490.30" y1="222.70" x2="492.30" y2="222.70" stroke="#3a3a3a" stroke-width="1" />
<line x1="492.30" y1="369.00" x2="492.30" y2="372.00" stroke="#3a3a3a" stroke-width="1" />
<text x="492.30" y="382.80" font-size="10.4" text-anchor="middle" fill="#222" >1</text>
<line x1="520.50" y1="369.00" x2="520.50" y2="372.00" stroke="#3a3a3a" stroke-width="1" />
<text x="520.50" y="382.80" font-size="10.4" text-anchor="middle" fill="#222" >2</text>
<line x1="548.70" y1="369.00" x2="548.70" y2="372.00" stroke="#3a3a3a" stroke-width="1" />
<text x="548.70" y="382.80" font-size="10.4" text-anchor="middle" fill="#222" >3</text>
<line x1="576.90" y1="369.00" x2="576.90" y2="372.00" stroke="#3a3a3a" stroke-width="1" />
<text x="576.90" y="382.80" font-size="10.4" text-anchor="middle" fill="#222" >4</text>
<line x1="605.10" y1="369.00" x2="605.10" y2="372.00" stroke="#3a3a3a" stroke-width="1" />
<text x="605.10" y="382.80" font-size="10.4" text-anchor="middle" fill="#222" >5</text>
<line x1="633.30" y1="369.00" x2="633.30" y2="372.00" stroke="#3a3a3a" stroke-width="1" />
<text x="633.30" y="382.80" font-size="10.4" text-anchor="middle" fill="#222" >6</text>
<line x1="661.50" y1="369.00" x2="661.50" y2="372.00" stroke="#3a3a3a" stroke-width="1" />
<text x="661.50" y="382.80" font-size="10.4" text-anchor="middle" fill="#222" >7</text>
<line x1="506.40" y1="369.00" x2="506.40" y2="371.00" stroke="#3a3a3a" stroke-width="1" />
<line x1="534.60" y1="369.00" x2="534.60" y2="371.00" stroke="#3a3a3a" stroke-width="1" />
<line x1="562.80" y1="369.00" x2="562.80" y2="371.00" stroke="#3a3a3a" stroke-width="1" />
<line x1="591.00" y1="369.00" x2="591.00" y2="371.00" stroke="#3a3a3a" stroke-width="1" />
<line x1="619.20" y1="369.00" x2="619.20" y2="371.00" stroke="#3a3a3a" stroke-width="1" />
<line x1="647.40" y1="369.00" x2="647.40" y2="371.00" stroke="#3a3a3a" stroke-width="1" />
<line x1="675.60" y1="369.00" x2="675.60" y2="371.00" stroke="#3a3a3a" stroke-width="1" />
<text x="590.8" y="399.6" font-size="11" text-anchor="middle" fill="#111">Stretch, <tspan font-family="Liberation Serif" font-style="italic">λ</tspan></text>
<text transform="translate(469.5,295.5) rotate(-90)" font-size="11.9" text-anchor="middle" fill="#111">Nominal stress, <tspan font-family="Liberation Serif" font-style="italic">σ</tspan> (kPa)</text>
<line x1="593.90" y1="233.50" x2="613.00" y2="233.50" stroke="#2d5f8e" stroke-width="1.3" />
<line x1="634.70" y1="233.50" x2="653.10" y2="233.50" stroke="#2f6aa5" stroke-width="1.3" />
<text x="621.30" y="236.40" font-size="7.9" text-anchor="middle" fill="#222" >1</text>
<text x="628.00" y="236.40" font-size="7.9" text-anchor="start" fill="#222" >st</text>
<text x="674.80" y="236.40" font-size="7.9" text-anchor="end" fill="#222" >10 th</text>
<line x1="593.90" y1="243.10" x2="613.00" y2="243.10" stroke="#3d9fcf" stroke-width="1.3" />
<line x1="634.70" y1="243.10" x2="653.10" y2="243.10" stroke="#52b8c0" stroke-width="1.3" />
<text x="634.00" y="246.00" font-size="7.9" text-anchor="end" fill="#222" >20 th</text>
<text x="674.80" y="246.00" font-size="7.9" text-anchor="end" fill="#222" >50 th</text>
<line x1="593.90" y1="252.90" x2="613.00" y2="252.90" stroke="#9edba8" stroke-width="1.3" />
<line x1="634.70" y1="252.90" x2="653.10" y2="252.90" stroke="#a8e08c" stroke-width="1.3" />
<text x="634.00" y="255.80" font-size="7.9" text-anchor="end" fill="#222" >80 th</text>
<text x="676.70" y="255.80" font-size="7.9" text-anchor="end" fill="#222" >100 th</text>
<text x="460.50" y="223.80" font-size="17" text-anchor="start" fill="#111" >f</text>
<defs>
<linearGradient id="gUpper" x1="0" x2="1" y1="0" y2="0">
<stop offset="0" stop-color="#707070"/><stop offset="0.04" stop-color="#b8b8b8"/><stop offset="0.1" stop-color="#cacaca"/>
<stop offset="0.6" stop-color="#c6c6c6"/><stop offset="0.94" stop-color="#bdbdbd"/><stop offset="1" stop-color="#959595"/></linearGradient>
<linearGradient id="gLower" x1="0" x2="1" y1="0" y2="0">
<stop offset="0" stop-color="#a8a8a8"/><stop offset="0.1" stop-color="#c6c6c6"/><stop offset="0.7" stop-color="#c2c2c2"/><stop offset="1" stop-color="#b4b4b4"/></linearGradient>
<linearGradient id="gSample" x1="0" x2="0" y1="0" y2="1">
<stop offset="0" stop-color="#1c1c1c"/><stop offset="0.35" stop-color="#29261f"/><stop offset="0.7" stop-color="#4f4530"/><stop offset="1" stop-color="#6e5e40"/></linearGradient>
<radialGradient id="gScrew" cx="0.45" cy="0.45" r="0.6">
<stop offset="0" stop-color="#e2e2e2"/><stop offset="0.6" stop-color="#c4c4c4"/><stop offset="1" stop-color="#909090"/></radialGradient>
<radialGradient id="gKnob" cx="0.5" cy="0.35" r="0.65">
<stop offset="0" stop-color="#2a2a2a"/><stop offset="1" stop-color="#111"/></radialGradient>
</defs>
<clipPath id="clipd0"><rect x="0" y="211.6" width="104.0" height="188.9"/></clipPath>
<g clip-path="url(#clipd0)">
<rect x="0" y="211.6" width="104.0" height="188.9" fill="#0c0c0c"/>
<rect x="11.6" y="208.6" width="84.2" height="88.6" rx="2" fill="url(#gUpper)"/>
<rect x="33.9" y="235.3" width="41.8" height="41.6" fill="#2b2b2b"/>
<rect x="35" y="235.3" width="9" height="41.6" fill="#303030"/>
<rect x="64" y="235.3" width="10.5" height="41.6" fill="#2f2f2f"/>
<rect x="45.4" y="235.3" width="17.4" height="62" fill="#1e1e1e"/>
<rect x="46.8" y="276" width="13.4" height="21.2" rx="5" fill="url(#gSample)"/>
<path d="M30.5,297 L69.5,297 L69.8,317.5 L71.5,321 L28.5,321 L30.2,317.5 Z" fill="#262626"/>
<path d="M31.5,299 L68.5,299 L68.5,314 L31.5,314 Z" fill="#2e2e2e"/>
<path d="M31,316 L69,316" stroke="#4a4a4a" stroke-width="1"/>
<rect x="10.0" y="319.0" width="85.6" height="84.5" rx="2" fill="url(#gLower)"/>
<rect x="10.6" y="319.4" width="84.4" height="3.2" fill="#d8d8d8" opacity="0.8"/>
<rect x="10.6" y="322.6" width="84.4" height="0.8" fill="#8a8a8a" opacity="0.6"/>
<circle cx="25.3" cy="339.0" r="13.1" fill="#a2a2a2"/>
<circle cx="25.3" cy="339.0" r="12.3" fill="#222"/>
<circle cx="25.3" cy="339.0" r="11.0" fill="url(#gScrew)"/>
<circle cx="25.3" cy="339.0" r="5.5" fill="none" stroke="#8a8a8a" stroke-width="0.9"/>
<path d="M21.3,336.5 L25.3,334.2 L29.3,336.5 L29.3,341.5 L25.3,343.8 L21.3,341.5 Z" fill="none" stroke="#9a9a9a" stroke-width="0.7"/>
<ellipse cx="26.3" cy="343.0" rx="2.5" ry="1.3" fill="#f4f4f4" opacity="0.9"/>
<circle cx="82.3" cy="338.6" r="13.1" fill="#a2a2a2"/>
<circle cx="82.3" cy="338.6" r="12.3" fill="#222"/>
<circle cx="82.3" cy="338.6" r="11.0" fill="url(#gScrew)"/>
<circle cx="82.3" cy="338.6" r="5.5" fill="none" stroke="#8a8a8a" stroke-width="0.9"/>
<path d="M78.3,336.1 L82.3,333.8 L86.3,336.1 L86.3,341.1 L82.3,343.40000000000003 L78.3,341.1 Z" fill="none" stroke="#9a9a9a" stroke-width="0.7"/>
<ellipse cx="83.3" cy="342.6" rx="2.5" ry="1.3" fill="#f4f4f4" opacity="0.9"/>
<circle cx="25.1" cy="392.7" r="13.1" fill="#a2a2a2"/>
<circle cx="25.1" cy="392.7" r="12.3" fill="#222"/>
<circle cx="25.1" cy="392.7" r="11.0" fill="url(#gScrew)"/>
<circle cx="25.1" cy="392.7" r="5.5" fill="none" stroke="#8a8a8a" stroke-width="0.9"/>
<path d="M21.1,390.2 L25.1,387.9 L29.1,390.2 L29.1,395.2 L25.1,397.5 L21.1,395.2 Z" fill="none" stroke="#9a9a9a" stroke-width="0.7"/>
<ellipse cx="26.1" cy="396.7" rx="2.5" ry="1.3" fill="#f4f4f4" opacity="0.9"/>
<circle cx="82.3" cy="392.7" r="13.1" fill="#a2a2a2"/>
<circle cx="82.3" cy="392.7" r="12.3" fill="#222"/>
<circle cx="82.3" cy="392.7" r="11.0" fill="url(#gScrew)"/>
<circle cx="82.3" cy="392.7" r="5.5" fill="none" stroke="#8a8a8a" stroke-width="0.9"/>
<path d="M78.3,390.2 L82.3,387.9 L86.3,390.2 L86.3,395.2 L82.3,397.5 L78.3,395.2 Z" fill="none" stroke="#9a9a9a" stroke-width="0.7"/>
<ellipse cx="83.3" cy="396.7" rx="2.5" ry="1.3" fill="#f4f4f4" opacity="0.9"/>
<path d="M60.6,361.6 L71.6,367.1 Q76.1,369.1 75.1,373.6 Q74.1,376.6 69.6,377.6 L63.6,380.6 Q61.1,383.6 60.1,386.6 Q57.6,389.1 54.6,387.1 L49.6,377.6 Z" fill="#1b1b1b"/>
<circle cx="52.6" cy="365.6" r="15.4" fill="url(#gKnob)"/>
<circle cx="71.7" cy="371.70000000000005" r="2.0" fill="#b4b4b4"/>
<circle cx="57.4" cy="383.8" r="2.0" fill="#b4b4b4"/>
<path d="M44.6,355.6 L59.6,375.6" stroke="#333" stroke-width="2.6" stroke-linecap="round"/>
<path d="M48.6,353.6 Q56.6,352.6 60.6,356.6" stroke="#3a3a3a" stroke-width="1.2" fill="none"/>
<rect x="18.200000000000003" y="211.6" width="69.8" height="24.0" rx="4.5" fill="#a8a8a8"/>
<rect x="19.200000000000003" y="212.6" width="67.8" height="22.0" rx="3.5" fill="#8e8e8e"/>
<rect x="20.6" y="214.0" width="65.0" height="19.2" rx="2.5" fill="#f1f3fa"/>
<text x="53.0" y="227.8" font-size="11.2" text-anchor="middle" fill="#111">Pristine</text>
</g>
<clipPath id="clipd109"><rect x="109.2" y="211.6" width="103.2" height="188.9"/></clipPath>
<g clip-path="url(#clipd109)">
<rect x="109.2" y="211.6" width="103.2" height="188.9" fill="#0c0c0c"/>
<rect x="119.39999999999999" y="208.6" width="84.2" height="88.6" rx="2" fill="url(#gUpper)"/>
<rect x="141.7" y="235.3" width="41.8" height="41.6" fill="#2b2b2b"/>
<rect x="142.8" y="235.3" width="9" height="41.6" fill="#303030"/>
<rect x="171.8" y="235.3" width="10.5" height="41.6" fill="#2f2f2f"/>
<rect x="153.2" y="235.3" width="17.4" height="62" fill="#1e1e1e"/>
<rect x="154.6" y="276" width="13.4" height="21.2" rx="5" fill="url(#gSample)"/>
<path d="M138.3,297 L177.3,297 L177.6,317.5 L179.3,321 L136.3,321 L138.0,317.5 Z" fill="#262626"/>
<path d="M139.3,299 L176.3,299 L176.3,314 L139.3,314 Z" fill="#2e2e2e"/>
<path d="M138.8,316 L176.8,316" stroke="#4a4a4a" stroke-width="1"/>
<rect x="117.8" y="319.0" width="85.6" height="84.5" rx="2" fill="url(#gLower)"/>
<rect x="118.39999999999999" y="319.4" width="84.4" height="3.2" fill="#d8d8d8" opacity="0.8"/>
<rect x="118.39999999999999" y="322.6" width="84.4" height="0.8" fill="#8a8a8a" opacity="0.6"/>
<circle cx="133.1" cy="339.0" r="13.1" fill="#a2a2a2"/>
<circle cx="133.1" cy="339.0" r="12.3" fill="#222"/>
<circle cx="133.1" cy="339.0" r="11.0" fill="url(#gScrew)"/>
<circle cx="133.1" cy="339.0" r="5.5" fill="none" stroke="#8a8a8a" stroke-width="0.9"/>
<path d="M129.1,336.5 L133.1,334.2 L137.1,336.5 L137.1,341.5 L133.1,343.8 L129.1,341.5 Z" fill="none" stroke="#9a9a9a" stroke-width="0.7"/>
<ellipse cx="134.1" cy="343.0" rx="2.5" ry="1.3" fill="#f4f4f4" opacity="0.9"/>
<circle cx="190.1" cy="338.6" r="13.1" fill="#a2a2a2"/>
<circle cx="190.1" cy="338.6" r="12.3" fill="#222"/>
<circle cx="190.1" cy="338.6" r="11.0" fill="url(#gScrew)"/>
<circle cx="190.1" cy="338.6" r="5.5" fill="none" stroke="#8a8a8a" stroke-width="0.9"/>
<path d="M186.1,336.1 L190.1,333.8 L194.1,336.1 L194.1,341.1 L190.1,343.40000000000003 L186.1,341.1 Z" fill="none" stroke="#9a9a9a" stroke-width="0.7"/>
<ellipse cx="191.1" cy="342.6" rx="2.5" ry="1.3" fill="#f4f4f4" opacity="0.9"/>
<circle cx="132.9" cy="392.7" r="13.1" fill="#a2a2a2"/>
<circle cx="132.9" cy="392.7" r="12.3" fill="#222"/>
<circle cx="132.9" cy="392.7" r="11.0" fill="url(#gScrew)"/>
<circle cx="132.9" cy="392.7" r="5.5" fill="none" stroke="#8a8a8a" stroke-width="0.9"/>
<path d="M128.9,390.2 L132.9,387.9 L136.9,390.2 L136.9,395.2 L132.9,397.5 L128.9,395.2 Z" fill="none" stroke="#9a9a9a" stroke-width="0.7"/>
<ellipse cx="133.9" cy="396.7" rx="2.5" ry="1.3" fill="#f4f4f4" opacity="0.9"/>
<circle cx="190.1" cy="392.7" r="13.1" fill="#a2a2a2"/>
<circle cx="190.1" cy="392.7" r="12.3" fill="#222"/>
<circle cx="190.1" cy="392.7" r="11.0" fill="url(#gScrew)"/>
<circle cx="190.1" cy="392.7" r="5.5" fill="none" stroke="#8a8a8a" stroke-width="0.9"/>
<path d="M186.1,390.2 L190.1,387.9 L194.1,390.2 L194.1,395.2 L190.1,397.5 L186.1,395.2 Z" fill="none" stroke="#9a9a9a" stroke-width="0.7"/>
<ellipse cx="191.1" cy="396.7" rx="2.5" ry="1.3" fill="#f4f4f4" opacity="0.9"/>
<path d="M168.4,361.6 L179.4,367.1 Q183.9,369.1 182.9,373.6 Q181.9,376.6 177.4,377.6 L171.4,380.6 Q168.9,383.6 167.9,386.6 Q165.4,389.1 162.4,387.1 L157.4,377.6 Z" fill="#1b1b1b"/>
<circle cx="160.4" cy="365.6" r="15.4" fill="url(#gKnob)"/>
<circle cx="179.5" cy="371.70000000000005" r="2.0" fill="#b4b4b4"/>
<circle cx="165.20000000000002" cy="383.8" r="2.0" fill="#b4b4b4"/>
<path d="M152.4,355.6 L167.4,375.6" stroke="#333" stroke-width="2.6" stroke-linecap="round"/>
<path d="M156.4,353.6 Q164.4,352.6 168.4,356.6" stroke="#3a3a3a" stroke-width="1.2" fill="none"/>
<rect x="128.1" y="211.6" width="69.8" height="24.0" rx="4.5" fill="#a8a8a8"/>
<rect x="129.1" y="212.6" width="67.8" height="22.0" rx="3.5" fill="#8e8e8e"/>
<rect x="130.5" y="214.0" width="65.0" height="19.2" rx="2.5" fill="#f1f3fa"/>
<text x="163.0" y="227.8" font-size="11.2" text-anchor="middle" fill="#111">100<tspan font-size="7.5" dy="-4">th</tspan><tspan dy="4"> cycle</tspan></text>
</g>
<text x="4.80" y="228.00" font-size="17.5" text-anchor="start" fill="#fff" >d</text>
<defs><linearGradient id="gArrow" x1="0" x2="1" y1="0" y2="0">
<stop offset="0" stop-color="#f2f9fd"/><stop offset="0.35" stop-color="#bfe3f6"/><stop offset="0.7" stop-color="#5fb6e6"/><stop offset="0.85" stop-color="#5a94da"/><stop offset="1" stop-color="#2f6fb8"/></linearGradient></defs>
<clipPath id="clipa0_3"><rect x="0" y="3.7" width="98.90" height="95.50"/></clipPath>
<g clip-path="url(#clipa0_3)">
<rect x="0" y="3.7" width="98.90" height="95.50" fill="#cbcbcb"/>
<path d="M-4.53,3.7V99.2M2.70,3.7V99.2M9.93,3.7V99.2M17.16,3.7V99.2M24.39,3.7V99.2M31.62,3.7V99.2M38.85,3.7V99.2M46.08,3.7V99.2M53.31,3.7V99.2M60.54,3.7V99.2M67.77,3.7V99.2M75.00,3.7V99.2M82.23,3.7V99.2M89.46,3.7V99.2M96.69,3.7V99.2M0,2.70H98.9M0,9.70H98.9M0,16.70H98.9M0,23.70H98.9M0,30.70H98.9M0,37.70H98.9M0,44.70H98.9M0,51.70H98.9M0,58.70H98.9M0,65.70H98.9M0,72.70H98.9M0,79.70H98.9M0,86.70H98.9M0,93.70H98.9" stroke="#666666" stroke-width="0.85" fill="none"/>
<rect x="32" y="44" width="33" height="34" fill="none" stroke="#e2e2e2" stroke-width="0.8" opacity="0.6"/>
<rect x="29.4" y="41.0" width="39.80" height="40.30" fill="none" stroke="#e8323a" stroke-width="1.25" stroke-dasharray="3.6,1.8"/>
<rect x="13.9" y="7.1" width="78.10" height="23.10" rx="4.5" fill="#a4a4a4"/>
<rect x="14.9" y="8.1" width="76.10" height="21.10" rx="3.5" fill="#8c8c8c"/>
<rect x="16.3" y="9.5" width="73.30" height="18.30" rx="2.6" fill="#f1f3fa"/>
<text x="53.5" y="23.0" font-size="11.5" text-anchor="middle" fill="#111">PAA240k-AM</text>
</g>
<clipPath id="clipa99_4"><rect x="99.2" y="4.9" width="112.40" height="94.30"/></clipPath>
<g clip-path="url(#clipa99_4)">
<rect x="99.2" y="4.9" width="112.40" height="94.30" fill="#c4c4c4"/>
<path d="M93.72,4.9V99.2M99.91,4.9V99.2M106.10,4.9V99.2M112.29,4.9V99.2M118.48,4.9V99.2M124.67,4.9V99.2M130.86,4.9V99.2M137.05,4.9V99.2M143.24,4.9V99.2M149.43,4.9V99.2M155.62,4.9V99.2M161.81,4.9V99.2M168.00,4.9V99.2M174.19,4.9V99.2M180.38,4.9V99.2M186.57,4.9V99.2M192.76,4.9V99.2M198.95,4.9V99.2M205.14,4.9V99.2M211.33,4.9V99.2M99.2,-1.10H211.6M99.2,5.20H211.6M99.2,11.50H211.6M99.2,17.80H211.6M99.2,24.10H211.6M99.2,30.40H211.6M99.2,36.70H211.6M99.2,43.00H211.6M99.2,49.30H211.6M99.2,55.60H211.6M99.2,61.90H211.6M99.2,68.20H211.6M99.2,74.50H211.6M99.2,80.80H211.6M99.2,87.10H211.6M99.2,93.40H211.6M99.2,99.70H211.6" stroke="#666666" stroke-width="0.85" fill="none"/>
<path d="M150,42 L188,41 Q196,41.5 196,50 L195.5,80 Q195,85 189,84.5 L128,84 Q122,83 122,78 L123,47 Q124,42 130,42 Z" fill="#d4d4d4" opacity="0.18"/>
<path d="M124,78 Q123,60 125,46" fill="none" stroke="#dcdcdc" stroke-width="0.8" opacity="0.5"/>
<path d="M166,41.6 L188,41 Q196,41.5 196.2,50 L195.6,80 Q195,84.6 189,84.6 L160,84.3" fill="none" stroke="#7c7c7c" stroke-width="0.9" opacity="0.8"/>
<path d="M168,43 L187,42.6 Q194,43 194.2,50 L193.6,79 Q193,83 188,83" fill="none" stroke="#f2f2f2" stroke-width="0.9" opacity="0.85"/>
<g fill="#f4f4f4" opacity="0.85"><rect x="162.2" y="49.9" width="0.7" height="1.0"/><rect x="152.0" y="60.6" width="0.7" height="0.8"/><rect x="175.6" y="81.0" width="1.2" height="0.9"/><rect x="191.0" y="45.8" width="1.5" height="0.8"/><rect x="183.9" y="51.0" width="1.2" height="1.1"/><rect x="150.6" y="52.0" width="1.0" height="0.9"/><rect x="173.8" y="61.7" width="0.9" height="1.2"/><rect x="178.8" y="53.5" width="1.2" height="1.0"/><rect x="186.5" y="72.4" width="0.9" height="1.4"/><rect x="153.2" y="60.3" width="0.8" height="1.0"/><rect x="149.7" y="70.1" width="1.2" height="1.3"/><rect x="173.5" y="61.8" width="1.4" height="1.4"/><rect x="168.9" y="69.9" width="0.7" height="1.2"/><rect x="176.5" y="82.7" width="1.4" height="0.8"/><rect x="168.3" y="50.6" width="0.7" height="0.6"/><rect x="181.8" y="49.0" width="0.8" height="0.9"/><rect x="186.3" y="47.1" width="1.0" height="1.0"/><rect x="186.9" y="76.0" width="1.5" height="0.8"/><rect x="166.3" y="58.0" width="1.5" height="1.4"/><rect x="164.2" y="66.1" width="1.3" height="1.0"/><rect x="175.2" y="70.4" width="0.7" height="1.3"/><rect x="182.3" y="78.1" width="1.4" height="0.9"/><rect x="165.6" y="48.0" width="1.2" height="0.6"/><rect x="149.1" y="78.1" width="0.7" height="0.8"/><rect x="185.4" y="82.7" width="1.1" height="1.0"/><rect x="171.2" y="82.2" width="1.5" height="1.2"/><rect x="182.0" y="64.8" width="1.4" height="0.9"/><rect x="157.8" y="75.6" width="1.5" height="1.2"/><rect x="184.0" y="72.9" width="0.8" height="1.0"/><rect x="160.3" y="54.1" width="1.6" height="1.0"/><rect x="189.2" y="82.5" width="1.6" height="0.9"/><rect x="157.0" y="68.3" width="1.4" height="1.0"/><rect x="176.7" y="75.2" width="0.7" height="1.1"/><rect x="188.0" y="74.5" width="1.4" height="1.0"/><rect x="183.2" y="81.9" width="1.0" height="0.9"/><rect x="189.7" y="72.3" width="0.8" height="0.7"/><rect x="154.7" y="79.3" width="0.7" height="1.3"/><rect x="191.1" y="69.6" width="1.0" height="1.0"/><rect x="153.8" y="44.6" width="1.2" height="1.0"/><rect x="189.1" y="60.9" width="1.5" height="1.3"/><rect x="166.4" y="49.1" width="1.5" height="0.9"/><rect x="168.2" y="66.8" width="1.5" height="0.9"/><rect x="188.4" y="63.6" width="1.1" height="1.0"/><rect x="168.8" y="72.3" width="1.2" height="0.9"/><rect x="170.8" y="65.7" width="1.4" height="0.7"/></g>
<rect x="119.6" y="38.8" width="80.00" height="47.80" fill="none" stroke="#e8323a" stroke-width="1.25" stroke-dasharray="3.6,1.8"/>
</g>
<clipPath id="clipa0_102"><rect x="0" y="102.7" width="98.60" height="96.50"/></clipPath>
<g clip-path="url(#clipa0_102)">
<rect x="0" y="102.7" width="98.60" height="96.50" fill="#c8c8c8"/>
<path d="M-6.80,102.7V199.2M0.90,102.7V199.2M8.60,102.7V199.2M16.30,102.7V199.2M24.00,102.7V199.2M31.70,102.7V199.2M39.40,102.7V199.2M47.10,102.7V199.2M54.80,102.7V199.2M62.50,102.7V199.2M70.20,102.7V199.2M77.90,102.7V199.2M85.60,102.7V199.2M93.30,102.7V199.2M0,95.05H98.6M0,102.90H98.6M0,110.75H98.6M0,118.60H98.6M0,126.45H98.6M0,134.30H98.6M0,142.15H98.6M0,150.00H98.6M0,157.85H98.6M0,165.70H98.6M0,173.55H98.6M0,181.40H98.6M0,189.25H98.6M0,197.10H98.6" stroke="#666666" stroke-width="0.85" fill="none"/>
<rect x="32" y="141" width="24" height="33" fill="none" stroke="#e0e0e0" stroke-width="0.8" opacity="0.5"/>
<rect x="29.6" y="137.8" width="28.70" height="40.50" fill="none" stroke="#e8323a" stroke-width="1.25" stroke-dasharray="3.6,1.8"/>
<rect x="17.5" y="107.8" width="68.70" height="22.30" rx="4.5" fill="#a4a4a4"/>
<rect x="18.5" y="108.8" width="66.70" height="20.30" rx="3.5" fill="#8c8c8c"/>
<rect x="19.9" y="110.2" width="63.90" height="17.50" rx="2.6" fill="#f1f3fa"/>
<text x="52.05" y="123.7" font-size="11.8" text-anchor="middle" fill="#111">PAA3k-AM</text>
</g>
<clipPath id="clipa99_103"><rect x="99.1" y="103.0" width="113.10" height="96.20"/></clipPath>
<g clip-path="url(#clipa99_103)">
<rect x="99.1" y="103.0" width="113.10" height="96.20" fill="#c9c9c9"/>
<path d="M92.00,103.0V199.2M99.60,103.0V199.2M107.20,103.0V199.2M114.80,103.0V199.2M122.40,103.0V199.2M130.00,103.0V199.2M137.60,103.0V199.2M145.20,103.0V199.2M152.80,103.0V199.2M160.40,103.0V199.2M168.00,103.0V199.2M175.60,103.0V199.2M183.20,103.0V199.2M190.80,103.0V199.2M198.40,103.0V199.2M206.00,103.0V199.2M99.1,100.90H212.2M99.1,108.45H212.2M99.1,116.00H212.2M99.1,123.55H212.2M99.1,131.10H212.2M99.1,138.65H212.2M99.1,146.20H212.2M99.1,153.75H212.2M99.1,161.30H212.2M99.1,168.85H212.2M99.1,176.40H212.2M99.1,183.95H212.2M99.1,191.50H212.2M99.1,199.05H212.2" stroke="#666666" stroke-width="0.85" fill="none"/>
<path d="M149,162 Q150,148 161,145 Q172,143 179,149 Q185,156 184,166 Q183,178 176,183 Q166,186 157,182 Q150,177 149,162 Z" fill="#d4d4d4" fill-opacity="0.15" stroke="#6a6a6a" stroke-width="0.8" stroke-opacity="0.75"/>
<path d="M150.5,162 Q151,149 161,146.5 Q171,144.5 178,150 Q183.5,156 182.5,166 Q181.5,177 175,181.5 Q166,184.5 158,180.5 Q151.5,176 150.5,162 Z" fill="none" stroke="#eeeeee" stroke-width="0.7" opacity="0.7"/>
<path d="M156,155 L164,150 L172,153 L177,160 M158,168 L166,163 L174,167 L180,171 M163,150 L166,162 L165,176 M172,154 L174,168 L170,180 M158,174 L165,176" fill="none" stroke="#f0f0f0" stroke-width="0.7" opacity="0.75"/>
<rect x="144.5" y="141.7" width="42.60" height="45.90" fill="none" stroke="#e8323a" stroke-width="1.25" stroke-dasharray="3.6,1.8"/>
</g>
<text x="91.40" y="49.00" font-size="11.2" text-anchor="start" fill="#111" >Swell</text>
<path d="M94.0,53.3 L108.9,53.3 L108.9,49.9 L117.1,56.5 L108.9,63.7 L108.9,60.4 L94.0,60.4 Z" fill="url(#gArrow)"/>
<text x="91.50" y="139.70" font-size="11.2" text-anchor="start" fill="#111" >Swell</text>
<path d="M94.1,147.9 L108.8,147.9 L108.8,144.3 L116.8,151.5 L108.8,158.6 L108.8,155.1 L94.1,155.1 Z" fill="url(#gArrow)"/>
<text x="4.7" y="20.0" font-size="16" fill="#fff" stroke="#fff" stroke-width="0.6">a</text>
<clipPath id="clipc"><rect x="492.2" y="9.3" width="191.80" height="154.10"/></clipPath>
<g clip-path="url(#clipc)">
<g fill="none" stroke="#7d99cf" stroke-width="0.5"><circle cx="541.80" cy="162.30" r="2.4"/><circle cx="544.84" cy="155.85" r="2.4"/><circle cx="547.74" cy="149.09" r="2.4"/><circle cx="550.52" cy="141.36" r="2.4"/><circle cx="553.18" cy="136.23" r="2.4"/><circle cx="555.73" cy="133.03" r="2.4"/><circle cx="558.19" cy="129.31" r="2.4"/><circle cx="560.56" cy="126.30" r="2.4"/><circle cx="562.84" cy="123.82" r="2.4"/><circle cx="565.04" cy="121.19" r="2.4"/><circle cx="567.17" cy="118.91" r="2.4"/><circle cx="569.24" cy="117.03" r="2.4"/><circle cx="571.24" cy="115.65" r="2.4"/><circle cx="573.17" cy="114.41" r="2.4"/><circle cx="575.05" cy="113.11" r="2.4"/><circle cx="576.88" cy="111.98" r="2.4"/><circle cx="578.66" cy="111.05" r="2.4"/><circle cx="580.39" cy="110.40" r="2.4"/><circle cx="582.07" cy="110.00" r="2.4"/><circle cx="583.71" cy="109.73" r="2.4"/><circle cx="585.31" cy="109.61" r="2.4"/><circle cx="586.87" cy="109.64" r="2.4"/><circle cx="588.40" cy="109.81" r="2.4"/><circle cx="589.89" cy="110.10" r="2.4"/><circle cx="591.34" cy="110.42" r="2.4"/><circle cx="592.76" cy="110.76" r="2.4"/><circle cx="594.15" cy="111.12" r="2.4"/><circle cx="595.52" cy="111.51" r="2.4"/><circle cx="596.85" cy="111.95" r="2.4"/><circle cx="598.16" cy="112.44" r="2.4"/><circle cx="599.44" cy="113.01" r="2.4"/><circle cx="600.69" cy="113.64" r="2.4"/><circle cx="601.92" cy="114.31" r="2.4"/><circle cx="603.13" cy="115.00" r="2.4"/><circle cx="604.32" cy="115.69" r="2.4"/><circle cx="605.48" cy="116.37" r="2.4"/><circle cx="606.63" cy="117.04" r="2.4"/><circle cx="607.75" cy="117.69" r="2.4"/><circle cx="608.85" cy="118.35" r="2.4"/><circle cx="609.94" cy="119.00" r="2.4"/><circle cx="611.01" cy="119.67" r="2.4"/><circle cx="612.06" cy="120.34" r="2.4"/><circle cx="613.09" cy="121.03" r="2.4"/><circle cx="614.11" cy="121.73" r="2.4"/><circle cx="615.11" cy="122.43" r="2.4"/><circle cx="616.09" cy="123.14" r="2.4"/><circle cx="617.07" cy="123.86" r="2.4"/><circle cx="618.02" cy="124.59" r="2.4"/><circle cx="618.96" cy="125.32" r="2.4"/><circle cx="619.89" cy="126.05" r="2.4"/><circle cx="620.81" cy="126.79" r="2.4"/><circle cx="621.71" cy="127.54" r="2.4"/><circle cx="622.60" cy="128.30" r="2.4"/><circle cx="623.48" cy="129.07" r="2.4"/><circle cx="624.34" cy="129.84" r="2.4"/><circle cx="625.20" cy="130.60" r="2.4"/><circle cx="626.04" cy="131.36" r="2.4"/><circle cx="626.87" cy="132.11" r="2.4"/><circle cx="627.70" cy="132.84" r="2.4"/><circle cx="628.51" cy="133.56" r="2.4"/><circle cx="629.31" cy="134.25" r="2.4"/><circle cx="630.10" cy="134.94" r="2.4"/><circle cx="630.88" cy="135.61" r="2.4"/><circle cx="631.65" cy="136.27" r="2.4"/><circle cx="632.42" cy="136.94" r="2.4"/><circle cx="633.17" cy="137.60" r="2.4"/><circle cx="633.92" cy="138.26" r="2.4"/><circle cx="634.65" cy="138.92" r="2.4"/><circle cx="635.38" cy="139.60" r="2.4"/><circle cx="636.10" cy="140.27" r="2.4"/><circle cx="636.81" cy="140.95" r="2.4"/><circle cx="637.52" cy="141.63" r="2.4"/><circle cx="638.21" cy="142.31" r="2.4"/><circle cx="638.90" cy="142.99" r="2.4"/><circle cx="639.59" cy="143.67" r="2.4"/><circle cx="640.26" cy="144.36" r="2.4"/><circle cx="640.93" cy="145.04" r="2.4"/><circle cx="641.59" cy="145.72" r="2.4"/><circle cx="642.24" cy="146.40" r="2.4"/><circle cx="642.89" cy="147.08" r="2.4"/><circle cx="643.53" cy="147.77" r="2.4"/><circle cx="644.17" cy="148.45" r="2.4"/><circle cx="644.80" cy="149.14" r="2.4"/><circle cx="645.42" cy="149.82" r="2.4"/><circle cx="646.03" cy="150.50" r="2.4"/><circle cx="646.64" cy="151.19" r="2.4"/><circle cx="647.25" cy="151.87" r="2.4"/><circle cx="647.85" cy="152.55" r="2.4"/><circle cx="648.44" cy="153.22" r="2.4"/><circle cx="649.03" cy="153.90" r="2.4"/><circle cx="649.61" cy="154.57" r="2.4"/><circle cx="650.19" cy="155.24" r="2.4"/><circle cx="650.76" cy="155.91" r="2.4"/><circle cx="651.33" cy="156.58" r="2.4"/><circle cx="651.89" cy="157.25" r="2.4"/><circle cx="652.45" cy="157.93" r="2.4"/><circle cx="653.00" cy="158.60" r="2.4"/><circle cx="653.55" cy="159.27" r="2.4"/><circle cx="654.10" cy="159.95" r="2.4"/><circle cx="654.63" cy="160.62" r="2.4"/><circle cx="655.17" cy="161.30" r="2.4"/><circle cx="655.70" cy="161.98" r="2.4"/><circle cx="656.22" cy="162.66" r="2.4"/><circle cx="656.75" cy="163.40" r="2.4"/><circle cx="657.26" cy="164.43" r="2.4"/></g>
<g fill="none" stroke="#f4979a" stroke-width="0.5"><circle cx="492.20" cy="66.00" r="2.25"/><circle cx="495.33" cy="65.16" r="2.25"/><circle cx="498.32" cy="64.37" r="2.25"/><circle cx="501.17" cy="63.63" r="2.25"/><circle cx="503.90" cy="62.98" r="2.25"/><circle cx="506.52" cy="62.56" r="2.25"/><circle cx="509.04" cy="62.28" r="2.25"/><circle cx="511.46" cy="62.07" r="2.25"/><circle cx="513.80" cy="61.90" r="2.25"/><circle cx="516.05" cy="61.77" r="2.25"/><circle cx="518.23" cy="61.70" r="2.25"/><circle cx="520.33" cy="61.71" r="2.25"/><circle cx="522.37" cy="61.80" r="2.25"/><circle cx="524.34" cy="61.95" r="2.25"/><circle cx="526.26" cy="62.16" r="2.25"/><circle cx="528.12" cy="62.41" r="2.25"/><circle cx="529.93" cy="62.63" r="2.25"/><circle cx="531.69" cy="62.90" r="2.25"/><circle cx="533.40" cy="63.28" r="2.25"/><circle cx="535.07" cy="63.85" r="2.25"/><circle cx="536.69" cy="64.60" r="2.25"/><circle cx="538.28" cy="65.48" r="2.25"/><circle cx="539.82" cy="66.46" r="2.25"/><circle cx="541.33" cy="67.52" r="2.25"/><circle cx="542.81" cy="68.63" r="2.25"/><circle cx="544.25" cy="69.81" r="2.25"/><circle cx="545.66" cy="71.06" r="2.25"/><circle cx="547.04" cy="72.37" r="2.25"/><circle cx="548.40" cy="73.71" r="2.25"/><circle cx="549.72" cy="75.05" r="2.25"/><circle cx="551.02" cy="76.39" r="2.25"/><circle cx="552.29" cy="77.71" r="2.25"/><circle cx="553.53" cy="79.01" r="2.25"/><circle cx="554.76" cy="80.33" r="2.25"/><circle cx="555.96" cy="81.73" r="2.25"/><circle cx="557.13" cy="83.27" r="2.25"/><circle cx="558.29" cy="84.94" r="2.25"/><circle cx="559.43" cy="86.73" r="2.25"/><circle cx="560.54" cy="88.59" r="2.25"/><circle cx="561.64" cy="90.51" r="2.25"/><circle cx="562.72" cy="92.45" r="2.25"/><circle cx="563.78" cy="94.41" r="2.25"/><circle cx="564.82" cy="96.42" r="2.25"/><circle cx="565.85" cy="98.45" r="2.25"/><circle cx="566.86" cy="100.51" r="2.25"/><circle cx="567.86" cy="102.59" r="2.25"/><circle cx="568.84" cy="104.69" r="2.25"/><circle cx="569.80" cy="106.87" r="2.25"/><circle cx="570.75" cy="109.06" r="2.25"/><circle cx="571.69" cy="111.22" r="2.25"/><circle cx="572.61" cy="113.30" r="2.25"/><circle cx="573.52" cy="115.28" r="2.25"/><circle cx="574.42" cy="117.15" r="2.25"/><circle cx="575.31" cy="118.94" r="2.25"/><circle cx="576.18" cy="120.69" r="2.25"/><circle cx="577.04" cy="122.40" r="2.25"/><circle cx="577.89" cy="124.08" r="2.25"/><circle cx="578.73" cy="125.76" r="2.25"/><circle cx="579.56" cy="127.42" r="2.25"/><circle cx="580.38" cy="129.06" r="2.25"/><circle cx="581.18" cy="130.67" r="2.25"/><circle cx="581.98" cy="132.26" r="2.25"/><circle cx="582.77" cy="133.83" r="2.25"/><circle cx="583.55" cy="135.39" r="2.25"/><circle cx="584.32" cy="136.94" r="2.25"/><circle cx="585.08" cy="138.48" r="2.25"/><circle cx="585.83" cy="140.00" r="2.25"/><circle cx="586.57" cy="141.51" r="2.25"/><circle cx="587.30" cy="142.99" r="2.25"/><circle cx="588.03" cy="144.45" r="2.25"/><circle cx="588.74" cy="145.89" r="2.25"/><circle cx="589.45" cy="147.30" r="2.25"/><circle cx="590.16" cy="148.69" r="2.25"/><circle cx="590.85" cy="150.06" r="2.25"/><circle cx="591.54" cy="151.41" r="2.25"/><circle cx="592.22" cy="152.74" r="2.25"/><circle cx="592.89" cy="154.06" r="2.25"/><circle cx="593.55" cy="155.35" r="2.25"/><circle cx="594.21" cy="156.62" r="2.25"/><circle cx="594.86" cy="157.87" r="2.25"/><circle cx="595.51" cy="159.08" r="2.25"/><circle cx="596.15" cy="160.27" r="2.25"/><circle cx="596.78" cy="161.45" r="2.25"/><circle cx="597.41" cy="162.61" r="2.25"/><circle cx="598.03" cy="163.76" r="2.25"/><circle cx="598.64" cy="164.92" r="2.25"/><circle cx="599.25" cy="166.07" r="2.25"/><circle cx="599.85" cy="167.22" r="2.25"/></g>
<polyline points="566.00,120.10 566.15,119.94 566.31,119.78 566.47,119.61 566.63,119.45 566.80,119.28 566.97,119.11 567.14,118.94 567.31,118.77 567.49,118.61 567.66,118.44 567.84,118.27 568.02,118.11 568.19,117.94 568.37,117.78 568.55,117.62 568.72,117.47 568.89,117.32 569.06,117.18 569.23,117.04 569.40,116.90 569.56,116.77 569.72,116.65 569.88,116.53 570.04,116.42 570.20,116.31 570.35,116.20 570.51,116.10 570.66,116.00 570.81,115.91 570.97,115.81 571.12,115.72 571.28,115.62 571.44,115.53 571.59,115.43 571.76,115.33 571.92,115.23 572.08,115.13 572.25,115.03 572.42,114.91 572.60,114.80 572.78,114.68 572.96,114.56 573.15,114.43 573.34,114.30 573.53,114.17 573.72,114.03 573.91,113.90 574.11,113.76 574.31,113.62 574.51,113.48 574.71,113.34 574.91,113.21 575.11,113.07 575.31,112.94 575.51,112.81 575.71,112.68 575.91,112.55 576.11,112.43 576.30,112.31 576.50,112.20 576.69,112.09 576.88,111.98 577.07,111.88 577.26,111.77 577.44,111.67 577.63,111.57 577.81,111.47 578.00,111.37 578.18,111.28 578.37,111.19 578.56,111.10 578.75,111.01 578.94,110.92 579.13,110.84 579.33,110.76 579.54,110.68 579.74,110.61 579.96,110.54 580.18,110.47 580.40,110.40 580.63,110.34 580.87,110.27 581.11,110.21 581.36,110.15 581.61,110.09 581.86,110.04 582.12,109.99 582.39,109.94 582.65,109.89 582.92,109.84 583.19,109.80 583.46,109.76 583.73,109.73 584.00,109.70 584.27,109.67 584.54,109.65 584.81,109.63 585.07,109.61 585.34,109.60 585.60,109.60 585.86,109.60 586.11,109.60 586.36,109.61 586.60,109.62 586.85,109.63 587.09,109.65 587.33,109.67 587.57,109.70 587.81,109.73 588.06,109.76 588.30,109.80 588.55,109.84 588.81,109.88 589.07,109.93 589.34,109.98 589.61,110.04 589.90,110.10 590.19,110.16 590.49,110.23 590.80,110.30 591.12,110.37 591.46,110.45 591.80,110.53 592.15,110.62 592.52,110.70 592.88,110.79 593.26,110.89 593.64,110.99 594.02,111.09 594.41,111.19 594.80,111.30 595.20,111.42 595.59,111.54 595.98,111.66 596.38,111.79 596.77,111.92 597.16,112.06 597.54,112.20 597.92,112.35 598.30,112.50 598.67,112.66 599.04,112.82 599.41,113.00 599.78,113.18 600.15,113.36 600.52,113.55 600.89,113.74 601.26,113.94 601.63,114.14 602.00,114.35 602.37,114.56 602.74,114.77 603.11,114.98 603.48,115.20 603.85,115.42 604.22,115.63 604.59,115.85 604.96,116.07 605.33,116.28 605.70,116.50 606.07,116.72 606.45,116.93 606.82,117.15 607.19,117.37 607.57,117.58 607.94,117.80 608.32,118.03 608.69,118.25 609.07,118.47 609.44,118.70 609.82,118.93 610.20,119.16 610.57,119.39 610.95,119.63 611.32,119.87 611.70,120.11 612.07,120.35 612.45,120.60 612.82,120.85 613.20,121.10 613.58,121.36 613.95,121.62 614.33,121.88 614.70,122.14 615.08,122.41 615.45,122.68 615.83,122.95 616.20,123.22 616.58,123.50 616.96,123.78 617.33,124.06 617.71,124.35 618.08,124.63 618.46,124.92 618.83,125.21 619.21,125.51 619.58,125.80 619.95,126.10 620.33,126.40 620.70,126.70 621.07,127.00 621.44,127.31 621.81,127.63 622.18,127.94 622.55,128.26 622.92,128.58 623.29,128.90 623.66,129.23 624.03,129.56 624.40,129.89 624.77,130.22 625.14,130.55 625.51,130.88 625.88,131.21 626.25,131.55 626.62,131.88 626.99,132.21 627.36,132.54 627.73,132.87 628.10,133.20 628.47,133.53 628.85,133.85 629.22,134.18 629.60,134.50 629.97,134.82 630.35,135.15 630.72,135.47 631.10,135.79 631.47,136.12 631.85,136.44 632.23,136.77 632.60,137.10 632.98,137.43 633.35,137.76 633.73,138.09 634.10,138.43 634.48,138.77 634.85,139.11 635.23,139.45 635.60,139.80 635.97,140.15 636.34,140.50 636.71,140.86 637.08,141.21 637.45,141.57 637.82,141.93 638.19,142.29 638.56,142.65 638.93,143.02 639.30,143.39 639.67,143.76 640.04,144.13 640.41,144.50 640.78,144.88 641.15,145.26 641.52,145.64 641.89,146.03 642.26,146.42 642.63,146.81 643.00,147.20 643.37,147.60 643.75,148.01 644.14,148.42 644.52,148.84 644.91,149.26 645.30,149.69 645.69,150.13 646.08,150.56 646.47,151.00 646.86,151.43 647.25,151.87 647.63,152.30 648.01,152.73 648.39,153.16 648.76,153.58 649.12,154.00 649.48,154.41 649.83,154.82 650.17,155.21 650.50,155.60 650.83,155.98 651.16,156.37 651.49,156.76 651.81,157.15 652.14,157.55 652.46,157.93 652.78,158.32 653.09,158.70 653.39,159.08 653.69,159.45 653.99,159.81 654.27,160.16 654.54,160.51 654.80,160.84 655.05,161.15 655.29,161.46 655.52,161.74 655.73,162.02 655.92,162.27 656.10,162.50 656.26,162.71 656.40,162.91 656.53,163.08 656.64,163.25 656.74,163.39 656.82,163.52 656.89,163.64 656.95,163.75 657.01,163.84 657.05,163.93 657.09,164.01 657.12,164.08 657.14,164.14 657.17,164.20 657.19,164.26 657.21,164.31 657.23,164.36 657.25,164.40 657.27,164.45 657.30,164.50" fill="none" stroke="#34579c" stroke-width="0.8" stroke-linejoin="round" stroke-linecap="round" />
<polyline points="521.01,61.73 521.38,61.75 521.75,61.76 522.11,61.78 522.48,61.80 522.84,61.83 523.21,61.85 523.57,61.88 523.94,61.91 524.31,61.94 524.68,61.98 525.05,62.02 525.42,62.06 525.79,62.10 526.16,62.15 526.54,62.20 526.92,62.25 527.30,62.30 527.68,62.35 528.07,62.40 528.46,62.45 528.84,62.50 529.23,62.55 529.62,62.59 530.02,62.64 530.41,62.70 530.80,62.75 531.20,62.81 531.60,62.88 531.99,62.95 532.39,63.03 532.79,63.12 533.19,63.22 533.59,63.33 533.99,63.46 534.40,63.59 534.80,63.74 535.20,63.90 535.60,64.08 536.01,64.26 536.41,64.46 536.82,64.67 537.23,64.88 537.64,65.11 538.05,65.35 538.46,65.59 538.87,65.84 539.28,66.11 539.69,66.38 540.11,66.65 540.52,66.94 540.93,67.23 541.34,67.53 541.76,67.83 542.17,68.14 542.58,68.45 542.99,68.77 543.40,69.10 543.81,69.44 544.23,69.79 544.65,70.15 545.08,70.53 545.51,70.92 545.94,71.32 546.37,71.72 546.80,72.13 547.23,72.55 547.66,72.97 548.08,73.39 548.50,73.81 548.91,74.23 549.32,74.65 549.73,75.06 550.12,75.47 550.51,75.87 550.88,76.25 551.25,76.63 551.60,77.00 551.94,77.35 552.27,77.69 552.59,78.03 552.90,78.35 553.21,78.66 553.50,78.97 553.79,79.28 554.07,79.58 554.35,79.88 554.62,80.17 554.89,80.48 555.15,80.78 555.42,81.09 555.68,81.40 555.95,81.73 556.21,82.06 556.48,82.40 556.75,82.75 557.02,83.12 557.30,83.50 557.58,83.89 557.86,84.30 558.14,84.71 558.42,85.13 558.69,85.56 558.97,85.99 559.25,86.44 559.52,86.89 559.80,87.34 560.07,87.80 560.35,88.26 560.62,88.73 560.90,89.21 561.17,89.69 561.44,90.17 561.72,90.65 561.99,91.13 562.26,91.62 562.53,92.11 562.80,92.60 563.07,93.09 563.34,93.59 563.61,94.09 563.87,94.59 564.14,95.10 564.41,95.61 564.67,96.12 564.94,96.64 565.20,97.16 565.47,97.69 565.73,98.22 566.00,98.75 566.26,99.28 566.52,99.82 566.79,100.36 567.05,100.90 567.31,101.45 567.57,102.00 567.84,102.55 568.10,103.10 568.36,103.66 568.62,104.23 568.89,104.80 569.15,105.38 569.41,105.97 569.67,106.56 569.93,107.15 570.19,107.75 570.45,108.35 570.71,108.95 570.97,109.55 571.22,110.15 571.48,110.75 571.74,111.34 572.00,111.93 572.26,112.52 572.52,113.10 572.78,113.67 573.04,114.24 573.30,114.80 573.56,115.35 573.82,115.90 574.08,116.44 574.34,116.98 574.60,117.51 574.86,118.04 575.12,118.57 575.38,119.09 575.64,119.61 575.90,120.13 576.16,120.65 576.42,121.16 576.68,121.68 576.94,122.20 577.20,122.71 577.46,123.23 577.72,123.74 577.98,124.26 578.24,124.78 578.50,125.30 578.76,125.82 579.02,126.34 579.28,126.86 579.54,127.38 579.80,127.90 580.06,128.42 580.32,128.94 580.58,129.46 580.84,129.98 581.10,130.50 581.36,131.02 581.62,131.54 581.88,132.06 582.14,132.58 582.40,133.10 582.66,133.62 582.92,134.14 583.18,134.66 583.44,135.18 583.70,135.70 583.96,136.22 584.22,136.75 584.48,137.27 584.74,137.80 585.00,138.32 585.26,138.85 585.52,139.37 585.78,139.90 586.03,140.42 586.29,140.95 586.55,141.48 586.81,142.00 587.07,142.53 587.33,143.05 587.59,143.58 587.85,144.10 588.11,144.63 588.38,145.15 588.64,145.68 588.90,146.20 589.16,146.73 589.43,147.26 589.70,147.80 589.98,148.34 590.25,148.88 590.53,149.42 590.80,149.97 591.08,150.52 591.36,151.06 591.63,151.60 591.90,152.14 592.18,152.67 592.44,153.19 592.71,153.71 592.97,154.22 593.23,154.72 593.48,155.21 593.73,155.69 593.97,156.15 594.20,156.60 594.43,157.04 594.66,157.47 594.88,157.90 595.10,158.32 595.32,158.73 595.54,159.13 595.75,159.53 595.96,159.92 596.16,160.30 596.36,160.68 596.56,161.04 596.75,161.40 596.94,161.74 597.12,162.08 597.30,162.41 597.47,162.73 597.64,163.04 597.80,163.33 597.95,163.62 598.10,163.90 598.24,164.17 598.38,164.43 598.51,164.67 598.64,164.91 598.76,165.14 598.88,165.37 598.99,165.58 599.10,165.78 599.20,165.97 599.29,166.16 599.39,166.33 599.47,166.50 599.56,166.65 599.63,166.80 599.71,166.94 599.77,167.07 599.84,167.19 599.90,167.30 599.95,167.41 600.00,167.50" fill="none" stroke="#d8141c" stroke-width="0.9" stroke-linejoin="round" stroke-linecap="round" />
</g>
<line x1="587.40" y1="102.30" x2="560.60" y2="83.40" stroke="#ee2a2e" stroke-width="1.1" />
<path d="M557.2,81.1 L563.9,83.0 L560.8,87.0 Z" fill="#ee2a2e"/>
<rect x="492.2" y="9.3" width="191.80" height="154.10" fill="none" stroke="#3a3a3a" stroke-width="1"/>
<line x1="489.20" y1="128.70" x2="492.20" y2="128.70" stroke="#3a3a3a" stroke-width="1" />
<line x1="489.20" y1="13.80" x2="492.20" y2="13.80" stroke="#3a3a3a" stroke-width="1" />
<line x1="490.20" y1="154.19" x2="492.20" y2="154.19" stroke="#3a3a3a" stroke-width="1" />
<line x1="490.20" y1="146.50" x2="492.20" y2="146.50" stroke="#3a3a3a" stroke-width="1" />
<line x1="490.20" y1="139.83" x2="492.20" y2="139.83" stroke="#3a3a3a" stroke-width="1" />
<line x1="490.20" y1="133.96" x2="492.20" y2="133.96" stroke="#3a3a3a" stroke-width="1" />
<line x1="490.20" y1="94.11" x2="492.20" y2="94.11" stroke="#3a3a3a" stroke-width="1" />
<line x1="490.20" y1="73.88" x2="492.20" y2="73.88" stroke="#3a3a3a" stroke-width="1" />
<line x1="490.20" y1="59.52" x2="492.20" y2="59.52" stroke="#3a3a3a" stroke-width="1" />
<line x1="490.20" y1="48.39" x2="492.20" y2="48.39" stroke="#3a3a3a" stroke-width="1" />
<line x1="490.20" y1="39.29" x2="492.20" y2="39.29" stroke="#3a3a3a" stroke-width="1" />
<line x1="490.20" y1="31.60" x2="492.20" y2="31.60" stroke="#3a3a3a" stroke-width="1" />
<line x1="490.20" y1="24.93" x2="492.20" y2="24.93" stroke="#3a3a3a" stroke-width="1" />
<line x1="490.20" y1="19.06" x2="492.20" y2="19.06" stroke="#3a3a3a" stroke-width="1" />
<text transform="translate(486.6,17.0) scale(0.9,1)" font-size="10.4" text-anchor="end" fill="#222">1000</text>
<text x="487.60" y="132.50" font-size="10.4" text-anchor="end" fill="#222" >100</text>
<line x1="492.20" y1="163.40" x2="492.20" y2="166.40" stroke="#3a3a3a" stroke-width="1" />
<line x1="640.00" y1="163.40" x2="640.00" y2="166.40" stroke="#3a3a3a" stroke-width="1" />
<line x1="536.69" y1="163.40" x2="536.69" y2="165.40" stroke="#3a3a3a" stroke-width="1" />
<line x1="562.72" y1="163.40" x2="562.72" y2="165.40" stroke="#3a3a3a" stroke-width="1" />
<line x1="581.18" y1="163.40" x2="581.18" y2="165.40" stroke="#3a3a3a" stroke-width="1" />
<line x1="595.51" y1="163.40" x2="595.51" y2="165.40" stroke="#3a3a3a" stroke-width="1" />
<line x1="607.21" y1="163.40" x2="607.21" y2="165.40" stroke="#3a3a3a" stroke-width="1" />
<line x1="617.11" y1="163.40" x2="617.11" y2="165.40" stroke="#3a3a3a" stroke-width="1" />
<line x1="625.68" y1="163.40" x2="625.68" y2="165.40" stroke="#3a3a3a" stroke-width="1" />
<line x1="633.24" y1="163.40" x2="633.24" y2="165.40" stroke="#3a3a3a" stroke-width="1" />
<line x1="684.49" y1="163.40" x2="684.49" y2="165.40" stroke="#3a3a3a" stroke-width="1" />
<text x="493.20" y="177.00" font-size="10.4" text-anchor="middle" fill="#222" >0.01</text>
<text x="640.00" y="177.00" font-size="10.4" text-anchor="middle" fill="#222" >0.1</text>
<text x="576.2" y="195.4" font-size="11.4" fill="#111">q (Å<tspan font-size="7.5" dy="-4">-1</tspan><tspan dy="4">)</tspan></text>
<text transform="translate(466.4,88.9) rotate(-90)" font-size="11.8" text-anchor="middle" fill="#111">I(q) (cm<tspan font-size="7.5" dy="-4">-1</tspan><tspan dy="4">)</tspan></text>
<text x="502.30" y="28.10" font-size="10.2" text-anchor="start" fill="#222" >PAA240k-AM</text>
<circle cx="584.1" cy="24.4" r="2.2" fill="none" stroke="#6f8fc8" stroke-width="0.6"/>
<circle cx="584.1" cy="38.0" r="2.2" fill="none" stroke="#f08a8e" stroke-width="0.6"/>
<text x="598.80" y="28.40" font-size="10" text-anchor="start" fill="#222" >Virginal</text>
<text x="598.80" y="42.00" font-size="10" text-anchor="start" fill="#222" >Swelling for 12 hrs</text>
<text x="558.70" y="75.10" font-size="10.2" text-anchor="start" fill="#222" >ξ = 73.0 Å</text>
<text x="616.10" y="117.80" font-size="10.2" text-anchor="start" fill="#222" >ξ = 40.0 Å</text>
<text x="456.30" y="19.60" font-size="17.5" text-anchor="start" fill="#111" >c</text>
</svg></body></html>
